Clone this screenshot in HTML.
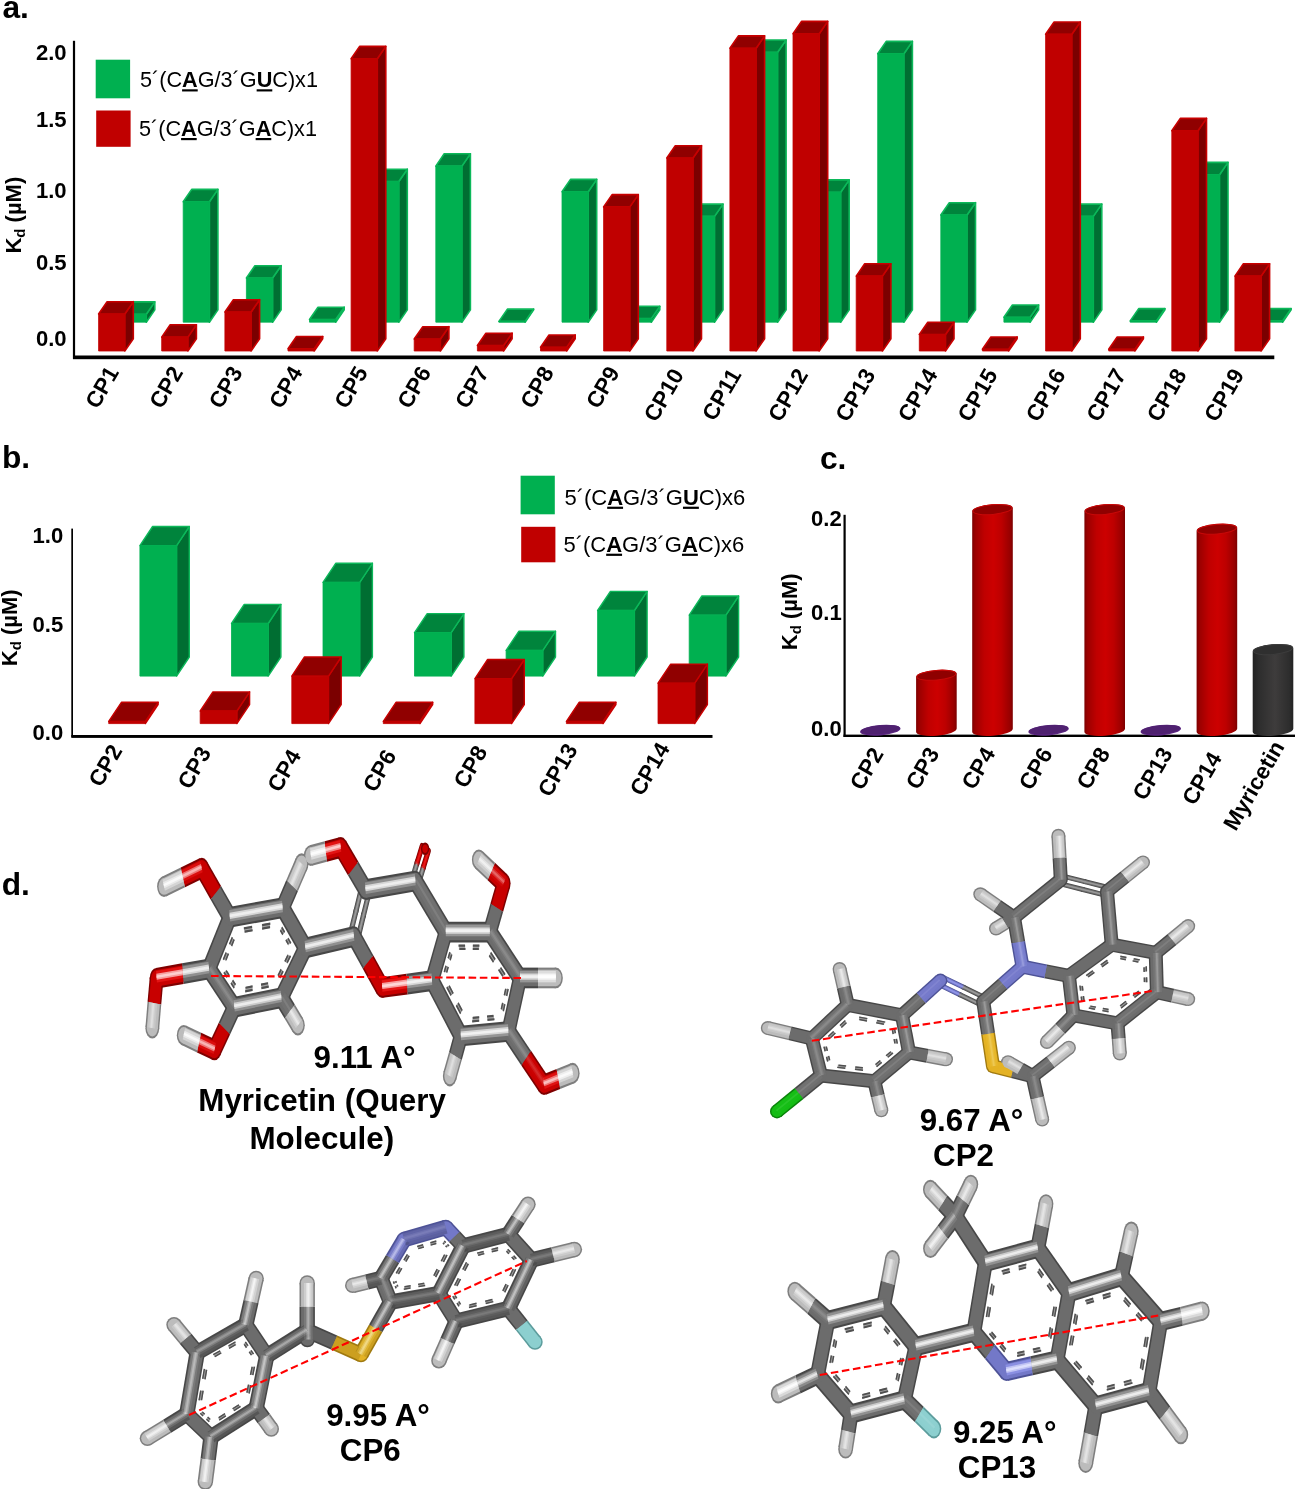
<!DOCTYPE html>
<html lang="en"><head><meta charset="utf-8"><title>Figure</title>
<style>html,body{margin:0;padding:0;background:#fff}svg{display:block;filter:blur(0.45px)}text{font-family:"Liberation Sans", sans-serif;fill:#000}</style>
</head><body>
<svg width="1295" height="1489" viewBox="0 0 1295 1489">
<defs>
<linearGradient id="cylR" x1="0" x2="1" y1="0" y2="0"><stop offset="0" stop-color="#7c0000"/><stop offset="0.07" stop-color="#9a0000"/><stop offset="0.3" stop-color="#bf0000"/><stop offset="0.52" stop-color="#cc0000"/><stop offset="0.72" stop-color="#bd0000"/><stop offset="0.93" stop-color="#980000"/><stop offset="1" stop-color="#7c0000"/></linearGradient>
<linearGradient id="cylK" x1="0" x2="1" y1="0" y2="0"><stop offset="0" stop-color="#222"/><stop offset="0.15" stop-color="#2d2d2d"/><stop offset="0.55" stop-color="#3e3c3c"/><stop offset="0.9" stop-color="#2d2d2d"/><stop offset="1" stop-color="#222"/></linearGradient>
</defs>
<rect width="1295" height="1489" fill="#fff"/>
<g id="panel-a">
<text x="2.5" y="17.6" font-size="31.7" font-weight="bold" text-anchor="start">a.</text>
<rect x="72.9" y="40.8" width="2.2" height="318" fill="#000"/>
<rect x="73" y="355.5" width="1201.3" height="3.7" fill="#000"/>
<text x="66.6" y="60.2" font-size="22.1" font-weight="bold" text-anchor="end">2.0</text>
<text x="66.6" y="126.7" font-size="22.1" font-weight="bold" text-anchor="end">1.5</text>
<text x="66.6" y="197.9" font-size="22.1" font-weight="bold" text-anchor="end">1.0</text>
<text x="66.6" y="269.5" font-size="22.1" font-weight="bold" text-anchor="end">0.5</text>
<text x="66.6" y="346.2" font-size="22.1" font-weight="bold" text-anchor="end">0.0</text>
<text transform="translate(21 215.2) rotate(-90)" font-size="22" font-weight="bold" text-anchor="middle">K<tspan font-size="15" dy="4">d</tspan><tspan dy="-4"> (µM)</tspan></text>
<rect x="95.7" y="59.7" width="34.4" height="38.6" fill="#00b050"/>
<rect x="96.2" y="110.5" width="34.4" height="36.3" fill="#c00000"/>
<text x="140" y="87.3" font-size="21.65" font-weight="normal">5´(C<tspan font-weight="bold" text-decoration="underline">A</tspan>G/3´G<tspan font-weight="bold" text-decoration="underline">U</tspan>C)x1</text>
<text x="139" y="136" font-size="21.65" font-weight="normal">5´(C<tspan font-weight="bold" text-decoration="underline">A</tspan>G/3´G<tspan font-weight="bold" text-decoration="underline">A</tspan>C)x1</text>
<polygon points="146.3,314.2 154.8,301.9 154.8,309.9 146.3,322.2" fill="#006e32" stroke="#0cb85a" stroke-width="1.6" stroke-linejoin="round"/><polygon points="120.1,314.2 128.6,301.9 154.8,301.9 146.3,314.2" fill="#00843c" stroke="#0cb85a" stroke-width="1.6" stroke-linejoin="round"/><rect x="120.1" y="314.2" width="26.2" height="8" fill="#00b050" stroke="#00b050" stroke-width="0.8" stroke-linejoin="round"/>
<polygon points="209.4,201.7 217.9,189.4 217.9,309.9 209.4,322.2" fill="#006e32" stroke="#0cb85a" stroke-width="1.6" stroke-linejoin="round"/><polygon points="183.2,201.7 191.7,189.4 217.9,189.4 209.4,201.7" fill="#00843c" stroke="#0cb85a" stroke-width="1.6" stroke-linejoin="round"/><rect x="183.2" y="201.7" width="26.2" height="120.5" fill="#00b050" stroke="#00b050" stroke-width="0.8" stroke-linejoin="round"/>
<polygon points="272.6,278 281.1,265.7 281.1,309.9 272.6,322.2" fill="#006e32" stroke="#0cb85a" stroke-width="1.6" stroke-linejoin="round"/><polygon points="246.4,278 254.9,265.7 281.1,265.7 272.6,278" fill="#00843c" stroke="#0cb85a" stroke-width="1.6" stroke-linejoin="round"/><rect x="246.4" y="278" width="26.2" height="44.2" fill="#00b050" stroke="#00b050" stroke-width="0.8" stroke-linejoin="round"/>
<polygon points="335.7,319.5 344.2,307.2 344.2,309.9 335.7,322.2" fill="#006e32" stroke="#0cb85a" stroke-width="1.6" stroke-linejoin="round"/><polygon points="309.5,319.5 318,307.2 344.2,307.2 335.7,319.5" fill="#00843c" stroke="#0cb85a" stroke-width="1.6" stroke-linejoin="round"/><rect x="309.5" y="319.5" width="26.2" height="2.7" fill="#00b050" stroke="#00b050" stroke-width="0.8" stroke-linejoin="round"/>
<polygon points="398.8,181.5 407.3,169.2 407.3,309.9 398.8,322.2" fill="#006e32" stroke="#0cb85a" stroke-width="1.6" stroke-linejoin="round"/><polygon points="372.6,181.5 381.1,169.2 407.3,169.2 398.8,181.5" fill="#00843c" stroke="#0cb85a" stroke-width="1.6" stroke-linejoin="round"/><rect x="372.6" y="181.5" width="26.2" height="140.7" fill="#00b050" stroke="#00b050" stroke-width="0.8" stroke-linejoin="round"/>
<polygon points="461.9,166.1 470.4,153.8 470.4,309.9 461.9,322.2" fill="#006e32" stroke="#0cb85a" stroke-width="1.6" stroke-linejoin="round"/><polygon points="435.8,166.1 444.2,153.8 470.4,153.8 461.9,166.1" fill="#00843c" stroke="#0cb85a" stroke-width="1.6" stroke-linejoin="round"/><rect x="435.8" y="166.1" width="26.2" height="156.1" fill="#00b050" stroke="#00b050" stroke-width="0.8" stroke-linejoin="round"/>
<polygon points="525.1,321.4 533.6,309.1 533.6,309.9 525.1,322.2" fill="#006e32" stroke="#0cb85a" stroke-width="1.6" stroke-linejoin="round"/><polygon points="498.9,321.4 507.4,309.1 533.6,309.1 525.1,321.4" fill="#00843c" stroke="#0cb85a" stroke-width="1.6" stroke-linejoin="round"/><rect x="498.9" y="321.4" width="26.2" height="0.8" fill="#00b050" stroke="#00b050" stroke-width="0.8" stroke-linejoin="round"/>
<polygon points="588.2,191.7 596.7,179.4 596.7,309.9 588.2,322.2" fill="#006e32" stroke="#0cb85a" stroke-width="1.6" stroke-linejoin="round"/><polygon points="562,191.7 570.5,179.4 596.7,179.4 588.2,191.7" fill="#00843c" stroke="#0cb85a" stroke-width="1.6" stroke-linejoin="round"/><rect x="562" y="191.7" width="26.2" height="130.5" fill="#00b050" stroke="#00b050" stroke-width="0.8" stroke-linejoin="round"/>
<polygon points="651.3,318.6 659.8,306.3 659.8,309.9 651.3,322.2" fill="#006e32" stroke="#0cb85a" stroke-width="1.6" stroke-linejoin="round"/><polygon points="625.1,318.6 633.6,306.3 659.8,306.3 651.3,318.6" fill="#00843c" stroke="#0cb85a" stroke-width="1.6" stroke-linejoin="round"/><rect x="625.1" y="318.6" width="26.2" height="3.6" fill="#00b050" stroke="#00b050" stroke-width="0.8" stroke-linejoin="round"/>
<polygon points="714.5,216.4 723,204.1 723,309.9 714.5,322.2" fill="#006e32" stroke="#0cb85a" stroke-width="1.6" stroke-linejoin="round"/><polygon points="688.3,216.4 696.8,204.1 723,204.1 714.5,216.4" fill="#00843c" stroke="#0cb85a" stroke-width="1.6" stroke-linejoin="round"/><rect x="688.3" y="216.4" width="26.2" height="105.8" fill="#00b050" stroke="#00b050" stroke-width="0.8" stroke-linejoin="round"/>
<polygon points="777.6,52.3 786.1,40 786.1,309.9 777.6,322.2" fill="#006e32" stroke="#0cb85a" stroke-width="1.6" stroke-linejoin="round"/><polygon points="751.4,52.3 759.9,40 786.1,40 777.6,52.3" fill="#00843c" stroke="#0cb85a" stroke-width="1.6" stroke-linejoin="round"/><rect x="751.4" y="52.3" width="26.2" height="269.9" fill="#00b050" stroke="#00b050" stroke-width="0.8" stroke-linejoin="round"/>
<polygon points="840.7,192.2 849.2,179.9 849.2,309.9 840.7,322.2" fill="#006e32" stroke="#0cb85a" stroke-width="1.6" stroke-linejoin="round"/><polygon points="814.5,192.2 823,179.9 849.2,179.9 840.7,192.2" fill="#00843c" stroke="#0cb85a" stroke-width="1.6" stroke-linejoin="round"/><rect x="814.5" y="192.2" width="26.2" height="130" fill="#00b050" stroke="#00b050" stroke-width="0.8" stroke-linejoin="round"/>
<polygon points="903.9,53.7 912.4,41.4 912.4,309.9 903.9,322.2" fill="#006e32" stroke="#0cb85a" stroke-width="1.6" stroke-linejoin="round"/><polygon points="877.7,53.7 886.2,41.4 912.4,41.4 903.9,53.7" fill="#00843c" stroke="#0cb85a" stroke-width="1.6" stroke-linejoin="round"/><rect x="877.7" y="53.7" width="26.2" height="268.5" fill="#00b050" stroke="#00b050" stroke-width="0.8" stroke-linejoin="round"/>
<polygon points="967,215 975.5,202.7 975.5,309.9 967,322.2" fill="#006e32" stroke="#0cb85a" stroke-width="1.6" stroke-linejoin="round"/><polygon points="940.8,215 949.3,202.7 975.5,202.7 967,215" fill="#00843c" stroke="#0cb85a" stroke-width="1.6" stroke-linejoin="round"/><rect x="940.8" y="215" width="26.2" height="107.2" fill="#00b050" stroke="#00b050" stroke-width="0.8" stroke-linejoin="round"/>
<polygon points="1030.1,317.3 1038.6,305 1038.6,309.9 1030.1,322.2" fill="#006e32" stroke="#0cb85a" stroke-width="1.6" stroke-linejoin="round"/><polygon points="1003.9,317.3 1012.4,305 1038.6,305 1030.1,317.3" fill="#00843c" stroke="#0cb85a" stroke-width="1.6" stroke-linejoin="round"/><rect x="1003.9" y="317.3" width="26.2" height="4.9" fill="#00b050" stroke="#00b050" stroke-width="0.8" stroke-linejoin="round"/>
<polygon points="1093.3,216.4 1101.8,204.1 1101.8,309.9 1093.3,322.2" fill="#006e32" stroke="#0cb85a" stroke-width="1.6" stroke-linejoin="round"/><polygon points="1067.1,216.4 1075.6,204.1 1101.8,204.1 1093.3,216.4" fill="#00843c" stroke="#0cb85a" stroke-width="1.6" stroke-linejoin="round"/><rect x="1067.1" y="216.4" width="26.2" height="105.8" fill="#00b050" stroke="#00b050" stroke-width="0.8" stroke-linejoin="round"/>
<polygon points="1156.4,320.9 1164.9,308.6 1164.9,309.9 1156.4,322.2" fill="#006e32" stroke="#0cb85a" stroke-width="1.6" stroke-linejoin="round"/><polygon points="1130.2,320.9 1138.7,308.6 1164.9,308.6 1156.4,320.9" fill="#00843c" stroke="#0cb85a" stroke-width="1.6" stroke-linejoin="round"/><rect x="1130.2" y="320.9" width="26.2" height="1.3" fill="#00b050" stroke="#00b050" stroke-width="0.8" stroke-linejoin="round"/>
<polygon points="1219.5,174.7 1228,162.4 1228,309.9 1219.5,322.2" fill="#006e32" stroke="#0cb85a" stroke-width="1.6" stroke-linejoin="round"/><polygon points="1193.3,174.7 1201.8,162.4 1228,162.4 1219.5,174.7" fill="#00843c" stroke="#0cb85a" stroke-width="1.6" stroke-linejoin="round"/><rect x="1193.3" y="174.7" width="26.2" height="147.5" fill="#00b050" stroke="#00b050" stroke-width="0.8" stroke-linejoin="round"/>
<polygon points="1282.6,320.9 1291.1,308.6 1291.1,309.9 1282.6,322.2" fill="#006e32" stroke="#0cb85a" stroke-width="1.6" stroke-linejoin="round"/><polygon points="1256.4,320.9 1264.9,308.6 1291.1,308.6 1282.6,320.9" fill="#00843c" stroke="#0cb85a" stroke-width="1.6" stroke-linejoin="round"/><rect x="1256.4" y="320.9" width="26.2" height="1.3" fill="#00b050" stroke="#00b050" stroke-width="0.8" stroke-linejoin="round"/>
<polygon points="124.8,314 133.3,301.7 133.3,338.7 124.8,351" fill="#7b0000" stroke="#c80000" stroke-width="1.6" stroke-linejoin="round"/><polygon points="98.6,314 107.1,301.7 133.3,301.7 124.8,314" fill="#900000" stroke="#c80000" stroke-width="1.6" stroke-linejoin="round"/><rect x="98.6" y="314" width="26.2" height="37" fill="#c00000" stroke="#c00000" stroke-width="0.8" stroke-linejoin="round"/>
<polygon points="187.9,337.1 196.4,324.8 196.4,338.7 187.9,351" fill="#7b0000" stroke="#c80000" stroke-width="1.6" stroke-linejoin="round"/><polygon points="161.7,337.1 170.2,324.8 196.4,324.8 187.9,337.1" fill="#900000" stroke="#c80000" stroke-width="1.6" stroke-linejoin="round"/><rect x="161.7" y="337.1" width="26.2" height="13.9" fill="#c00000" stroke="#c00000" stroke-width="0.8" stroke-linejoin="round"/>
<polygon points="251.1,312 259.6,299.7 259.6,338.7 251.1,351" fill="#7b0000" stroke="#c80000" stroke-width="1.6" stroke-linejoin="round"/><polygon points="224.9,312 233.4,299.7 259.6,299.7 251.1,312" fill="#900000" stroke="#c80000" stroke-width="1.6" stroke-linejoin="round"/><rect x="224.9" y="312" width="26.2" height="39" fill="#c00000" stroke="#c00000" stroke-width="0.8" stroke-linejoin="round"/>
<polygon points="314.2,348.8 322.7,336.5 322.7,338.7 314.2,351" fill="#7b0000" stroke="#c80000" stroke-width="1.6" stroke-linejoin="round"/><polygon points="288,348.8 296.5,336.5 322.7,336.5 314.2,348.8" fill="#900000" stroke="#c80000" stroke-width="1.6" stroke-linejoin="round"/><rect x="288" y="348.8" width="26.2" height="2.2" fill="#c00000" stroke="#c00000" stroke-width="0.8" stroke-linejoin="round"/>
<polygon points="377.3,58.7 385.8,46.4 385.8,338.7 377.3,351" fill="#7b0000" stroke="#c80000" stroke-width="1.6" stroke-linejoin="round"/><polygon points="351.1,58.7 359.6,46.4 385.8,46.4 377.3,58.7" fill="#900000" stroke="#c80000" stroke-width="1.6" stroke-linejoin="round"/><rect x="351.1" y="58.7" width="26.2" height="292.3" fill="#c00000" stroke="#c00000" stroke-width="0.8" stroke-linejoin="round"/>
<polygon points="440.4,339 448.9,326.7 448.9,338.7 440.4,351" fill="#7b0000" stroke="#c80000" stroke-width="1.6" stroke-linejoin="round"/><polygon points="414.2,339 422.8,326.7 448.9,326.7 440.4,339" fill="#900000" stroke="#c80000" stroke-width="1.6" stroke-linejoin="round"/><rect x="414.2" y="339" width="26.2" height="12" fill="#c00000" stroke="#c00000" stroke-width="0.8" stroke-linejoin="round"/>
<polygon points="503.6,345.5 512.1,333.2 512.1,338.7 503.6,351" fill="#7b0000" stroke="#c80000" stroke-width="1.6" stroke-linejoin="round"/><polygon points="477.4,345.5 485.9,333.2 512.1,333.2 503.6,345.5" fill="#900000" stroke="#c80000" stroke-width="1.6" stroke-linejoin="round"/><rect x="477.4" y="345.5" width="26.2" height="5.5" fill="#c00000" stroke="#c00000" stroke-width="0.8" stroke-linejoin="round"/>
<polygon points="566.7,347.3 575.2,335 575.2,338.7 566.7,351" fill="#7b0000" stroke="#c80000" stroke-width="1.6" stroke-linejoin="round"/><polygon points="540.5,347.3 549,335 575.2,335 566.7,347.3" fill="#900000" stroke="#c80000" stroke-width="1.6" stroke-linejoin="round"/><rect x="540.5" y="347.3" width="26.2" height="3.7" fill="#c00000" stroke="#c00000" stroke-width="0.8" stroke-linejoin="round"/>
<polygon points="629.8,206.9 638.3,194.6 638.3,338.7 629.8,351" fill="#7b0000" stroke="#c80000" stroke-width="1.6" stroke-linejoin="round"/><polygon points="603.6,206.9 612.1,194.6 638.3,194.6 629.8,206.9" fill="#900000" stroke="#c80000" stroke-width="1.6" stroke-linejoin="round"/><rect x="603.6" y="206.9" width="26.2" height="144.1" fill="#c00000" stroke="#c00000" stroke-width="0.8" stroke-linejoin="round"/>
<polygon points="693,158 701.5,145.7 701.5,338.7 693,351" fill="#7b0000" stroke="#c80000" stroke-width="1.6" stroke-linejoin="round"/><polygon points="666.8,158 675.3,145.7 701.5,145.7 693,158" fill="#900000" stroke="#c80000" stroke-width="1.6" stroke-linejoin="round"/><rect x="666.8" y="158" width="26.2" height="193" fill="#c00000" stroke="#c00000" stroke-width="0.8" stroke-linejoin="round"/>
<polygon points="756.1,48.2 764.6,35.9 764.6,338.7 756.1,351" fill="#7b0000" stroke="#c80000" stroke-width="1.6" stroke-linejoin="round"/><polygon points="729.9,48.2 738.4,35.9 764.6,35.9 756.1,48.2" fill="#900000" stroke="#c80000" stroke-width="1.6" stroke-linejoin="round"/><rect x="729.9" y="48.2" width="26.2" height="302.8" fill="#c00000" stroke="#c00000" stroke-width="0.8" stroke-linejoin="round"/>
<polygon points="819.2,33.7 827.7,21.4 827.7,338.7 819.2,351" fill="#7b0000" stroke="#c80000" stroke-width="1.6" stroke-linejoin="round"/><polygon points="793,33.7 801.5,21.4 827.7,21.4 819.2,33.7" fill="#900000" stroke="#c80000" stroke-width="1.6" stroke-linejoin="round"/><rect x="793" y="33.7" width="26.2" height="317.3" fill="#c00000" stroke="#c00000" stroke-width="0.8" stroke-linejoin="round"/>
<polygon points="882.4,276.1 890.9,263.8 890.9,338.7 882.4,351" fill="#7b0000" stroke="#c80000" stroke-width="1.6" stroke-linejoin="round"/><polygon points="856.2,276.1 864.7,263.8 890.9,263.8 882.4,276.1" fill="#900000" stroke="#c80000" stroke-width="1.6" stroke-linejoin="round"/><rect x="856.2" y="276.1" width="26.2" height="74.9" fill="#c00000" stroke="#c00000" stroke-width="0.8" stroke-linejoin="round"/>
<polygon points="945.5,334.5 954,322.2 954,338.7 945.5,351" fill="#7b0000" stroke="#c80000" stroke-width="1.6" stroke-linejoin="round"/><polygon points="919.3,334.5 927.8,322.2 954,322.2 945.5,334.5" fill="#900000" stroke="#c80000" stroke-width="1.6" stroke-linejoin="round"/><rect x="919.3" y="334.5" width="26.2" height="16.5" fill="#c00000" stroke="#c00000" stroke-width="0.8" stroke-linejoin="round"/>
<polygon points="1008.6,349.3 1017.1,337 1017.1,338.7 1008.6,351" fill="#7b0000" stroke="#c80000" stroke-width="1.6" stroke-linejoin="round"/><polygon points="982.4,349.3 990.9,337 1017.1,337 1008.6,349.3" fill="#900000" stroke="#c80000" stroke-width="1.6" stroke-linejoin="round"/><rect x="982.4" y="349.3" width="26.2" height="1.7" fill="#c00000" stroke="#c00000" stroke-width="0.8" stroke-linejoin="round"/>
<polygon points="1071.8,34.3 1080.3,22 1080.3,338.7 1071.8,351" fill="#7b0000" stroke="#c80000" stroke-width="1.6" stroke-linejoin="round"/><polygon points="1045.6,34.3 1054.1,22 1080.3,22 1071.8,34.3" fill="#900000" stroke="#c80000" stroke-width="1.6" stroke-linejoin="round"/><rect x="1045.6" y="34.3" width="26.2" height="316.7" fill="#c00000" stroke="#c00000" stroke-width="0.8" stroke-linejoin="round"/>
<polygon points="1134.9,349.3 1143.4,337 1143.4,338.7 1134.9,351" fill="#7b0000" stroke="#c80000" stroke-width="1.6" stroke-linejoin="round"/><polygon points="1108.7,349.3 1117.2,337 1143.4,337 1134.9,349.3" fill="#900000" stroke="#c80000" stroke-width="1.6" stroke-linejoin="round"/><rect x="1108.7" y="349.3" width="26.2" height="1.7" fill="#c00000" stroke="#c00000" stroke-width="0.8" stroke-linejoin="round"/>
<polygon points="1198,130.7 1206.5,118.4 1206.5,338.7 1198,351" fill="#7b0000" stroke="#c80000" stroke-width="1.6" stroke-linejoin="round"/><polygon points="1171.8,130.7 1180.3,118.4 1206.5,118.4 1198,130.7" fill="#900000" stroke="#c80000" stroke-width="1.6" stroke-linejoin="round"/><rect x="1171.8" y="130.7" width="26.2" height="220.3" fill="#c00000" stroke="#c00000" stroke-width="0.8" stroke-linejoin="round"/>
<polygon points="1261.1,276.1 1269.6,263.8 1269.6,338.7 1261.1,351" fill="#7b0000" stroke="#c80000" stroke-width="1.6" stroke-linejoin="round"/><polygon points="1234.9,276.1 1243.4,263.8 1269.6,263.8 1261.1,276.1" fill="#900000" stroke="#c80000" stroke-width="1.6" stroke-linejoin="round"/><rect x="1234.9" y="276.1" width="26.2" height="74.9" fill="#c00000" stroke="#c00000" stroke-width="0.8" stroke-linejoin="round"/>
<text x="119.6" y="372.2" font-size="22.5" font-weight="bold" text-anchor="end" transform="rotate(-60 119.6 372.2)">CP1</text>
<text x="183.7" y="372.2" font-size="22.5" font-weight="bold" text-anchor="end" transform="rotate(-60 183.7 372.2)">CP2</text>
<text x="243.2" y="372.2" font-size="22.5" font-weight="bold" text-anchor="end" transform="rotate(-60 243.2 372.2)">CP3</text>
<text x="303.4" y="372.2" font-size="22.5" font-weight="bold" text-anchor="end" transform="rotate(-60 303.4 372.2)">CP4</text>
<text x="368.6" y="372.2" font-size="22.5" font-weight="bold" text-anchor="end" transform="rotate(-60 368.6 372.2)">CP5</text>
<text x="431.7" y="372.2" font-size="22.5" font-weight="bold" text-anchor="end" transform="rotate(-60 431.7 372.2)">CP6</text>
<text x="489.5" y="372.2" font-size="22.5" font-weight="bold" text-anchor="end" transform="rotate(-60 489.5 372.2)">CP7</text>
<text x="554.6" y="372.2" font-size="22.5" font-weight="bold" text-anchor="end" transform="rotate(-60 554.6 372.2)">CP8</text>
<text x="620.3" y="372.2" font-size="22.5" font-weight="bold" text-anchor="end" transform="rotate(-60 620.3 372.2)">CP9</text>
<text x="684.5" y="374.5" font-size="22.5" font-weight="bold" text-anchor="end" transform="rotate(-60 684.5 374.5)">CP10</text>
<text x="742" y="374.5" font-size="22.5" font-weight="bold" text-anchor="end" transform="rotate(-60 742 374.5)">CP11</text>
<text x="808.7" y="374.5" font-size="22.5" font-weight="bold" text-anchor="end" transform="rotate(-60 808.7 374.5)">CP12</text>
<text x="876" y="374.5" font-size="22.5" font-weight="bold" text-anchor="end" transform="rotate(-60 876 374.5)">CP13</text>
<text x="938.3" y="374.5" font-size="22.5" font-weight="bold" text-anchor="end" transform="rotate(-60 938.3 374.5)">CP14</text>
<text x="998.2" y="374.5" font-size="22.5" font-weight="bold" text-anchor="end" transform="rotate(-60 998.2 374.5)">CP15</text>
<text x="1066.3" y="374.5" font-size="22.5" font-weight="bold" text-anchor="end" transform="rotate(-60 1066.3 374.5)">CP16</text>
<text x="1126.8" y="374.5" font-size="22.5" font-weight="bold" text-anchor="end" transform="rotate(-60 1126.8 374.5)">CP17</text>
<text x="1187.3" y="374.5" font-size="22.5" font-weight="bold" text-anchor="end" transform="rotate(-60 1187.3 374.5)">CP18</text>
<text x="1244.7" y="374.5" font-size="22.5" font-weight="bold" text-anchor="end" transform="rotate(-60 1244.7 374.5)">CP19</text>
</g>
<g id="panel-b">
<text x="1.9" y="468.4" font-size="31.7" font-weight="bold" text-anchor="start">b.</text>
<rect x="71.3" y="528.6" width="1.7" height="208.5" fill="#000"/>
<rect x="71.3" y="735" width="641.2" height="2.9" fill="#000"/>
<text x="63.3" y="542.6" font-size="22.1" font-weight="bold" text-anchor="end">1.0</text>
<text x="63.3" y="631.8" font-size="22.1" font-weight="bold" text-anchor="end">0.5</text>
<text x="63.3" y="739.6" font-size="22.1" font-weight="bold" text-anchor="end">0.0</text>
<text transform="translate(17.3 627.8) rotate(-90)" font-size="22" font-weight="bold" text-anchor="middle">K<tspan font-size="15" dy="4">d</tspan><tspan dy="-4"> (µM)</tspan></text>
<rect x="520.6" y="475.7" width="34.2" height="38.6" fill="#00b050"/>
<rect x="521.2" y="526.8" width="34.2" height="35.5" fill="#c00000"/>
<text x="564.4" y="504.7" font-size="22" font-weight="normal">5´(C<tspan font-weight="bold" text-decoration="underline">A</tspan>G/3´G<tspan font-weight="bold" text-decoration="underline">U</tspan>C)x6</text>
<text x="563.4" y="551.7" font-size="22" font-weight="normal">5´(C<tspan font-weight="bold" text-decoration="underline">A</tspan>G/3´G<tspan font-weight="bold" text-decoration="underline">A</tspan>C)x6</text>
<polygon points="176.6,545.6 189.3,526.5 189.3,657 176.6,676.1" fill="#006e32" stroke="#0cb85a" stroke-width="1.4" stroke-linejoin="round"/><polygon points="139.9,545.6 152.6,526.5 189.3,526.5 176.6,545.6" fill="#00843c" stroke="#0cb85a" stroke-width="1.4" stroke-linejoin="round"/><rect x="139.9" y="545.6" width="36.7" height="130.5" fill="#00b050" stroke="#00b050" stroke-width="0.8" stroke-linejoin="round"/>
<polygon points="268.2,623.5 280.9,604.4 280.9,657 268.2,676.1" fill="#006e32" stroke="#0cb85a" stroke-width="1.4" stroke-linejoin="round"/><polygon points="231.5,623.5 244.2,604.4 280.9,604.4 268.2,623.5" fill="#00843c" stroke="#0cb85a" stroke-width="1.4" stroke-linejoin="round"/><rect x="231.5" y="623.5" width="36.7" height="52.6" fill="#00b050" stroke="#00b050" stroke-width="0.8" stroke-linejoin="round"/>
<polygon points="359.7,582.4 372.4,563.3 372.4,657 359.7,676.1" fill="#006e32" stroke="#0cb85a" stroke-width="1.4" stroke-linejoin="round"/><polygon points="323,582.4 335.7,563.3 372.4,563.3 359.7,582.4" fill="#00843c" stroke="#0cb85a" stroke-width="1.4" stroke-linejoin="round"/><rect x="323" y="582.4" width="36.7" height="93.7" fill="#00b050" stroke="#00b050" stroke-width="0.8" stroke-linejoin="round"/>
<polygon points="451.2,632.7 463.9,613.6 463.9,657 451.2,676.1" fill="#006e32" stroke="#0cb85a" stroke-width="1.4" stroke-linejoin="round"/><polygon points="414.5,632.7 427.2,613.6 463.9,613.6 451.2,632.7" fill="#00843c" stroke="#0cb85a" stroke-width="1.4" stroke-linejoin="round"/><rect x="414.5" y="632.7" width="36.7" height="43.4" fill="#00b050" stroke="#00b050" stroke-width="0.8" stroke-linejoin="round"/>
<polygon points="542.8,650.4 555.5,631.3 555.5,657 542.8,676.1" fill="#006e32" stroke="#0cb85a" stroke-width="1.4" stroke-linejoin="round"/><polygon points="506.1,650.4 518.8,631.3 555.5,631.3 542.8,650.4" fill="#00843c" stroke="#0cb85a" stroke-width="1.4" stroke-linejoin="round"/><rect x="506.1" y="650.4" width="36.7" height="25.7" fill="#00b050" stroke="#00b050" stroke-width="0.8" stroke-linejoin="round"/>
<polygon points="634.4,610.5 647.1,591.4 647.1,657 634.4,676.1" fill="#006e32" stroke="#0cb85a" stroke-width="1.4" stroke-linejoin="round"/><polygon points="597.6,610.5 610.4,591.4 647.1,591.4 634.4,610.5" fill="#00843c" stroke="#0cb85a" stroke-width="1.4" stroke-linejoin="round"/><rect x="597.6" y="610.5" width="36.7" height="65.6" fill="#00b050" stroke="#00b050" stroke-width="0.8" stroke-linejoin="round"/>
<polygon points="725.9,615.1 738.6,596 738.6,657 725.9,676.1" fill="#006e32" stroke="#0cb85a" stroke-width="1.4" stroke-linejoin="round"/><polygon points="689.2,615.1 701.9,596 738.6,596 725.9,615.1" fill="#00843c" stroke="#0cb85a" stroke-width="1.4" stroke-linejoin="round"/><rect x="689.2" y="615.1" width="36.7" height="61" fill="#00b050" stroke="#00b050" stroke-width="0.8" stroke-linejoin="round"/>
<polygon points="145.4,721.4 158.1,702.3 158.1,704.5 145.4,723.6" fill="#7b0000" stroke="#c80000" stroke-width="1.4" stroke-linejoin="round"/><polygon points="108.7,721.4 121.4,702.3 158.1,702.3 145.4,721.4" fill="#900000" stroke="#c80000" stroke-width="1.4" stroke-linejoin="round"/><rect x="108.7" y="721.4" width="36.7" height="2.2" fill="#c00000" stroke="#c00000" stroke-width="0.8" stroke-linejoin="round"/>
<polygon points="236.9,711 249.6,691.9 249.6,704.5 236.9,723.6" fill="#7b0000" stroke="#c80000" stroke-width="1.4" stroke-linejoin="round"/><polygon points="200.2,711 212.9,691.9 249.6,691.9 236.9,711" fill="#900000" stroke="#c80000" stroke-width="1.4" stroke-linejoin="round"/><rect x="200.2" y="711" width="36.7" height="12.6" fill="#c00000" stroke="#c00000" stroke-width="0.8" stroke-linejoin="round"/>
<polygon points="328.5,676.1 341.2,657 341.2,704.5 328.5,723.6" fill="#7b0000" stroke="#c80000" stroke-width="1.4" stroke-linejoin="round"/><polygon points="291.8,676.1 304.5,657 341.2,657 328.5,676.1" fill="#900000" stroke="#c80000" stroke-width="1.4" stroke-linejoin="round"/><rect x="291.8" y="676.1" width="36.7" height="47.5" fill="#c00000" stroke="#c00000" stroke-width="0.8" stroke-linejoin="round"/>
<polygon points="420,721.4 432.7,702.3 432.7,704.5 420,723.6" fill="#7b0000" stroke="#c80000" stroke-width="1.4" stroke-linejoin="round"/><polygon points="383.3,721.4 396,702.3 432.7,702.3 420,721.4" fill="#900000" stroke="#c80000" stroke-width="1.4" stroke-linejoin="round"/><rect x="383.3" y="721.4" width="36.7" height="2.2" fill="#c00000" stroke="#c00000" stroke-width="0.8" stroke-linejoin="round"/>
<polygon points="511.6,678.6 524.3,659.5 524.3,704.5 511.6,723.6" fill="#7b0000" stroke="#c80000" stroke-width="1.4" stroke-linejoin="round"/><polygon points="474.9,678.6 487.6,659.5 524.3,659.5 511.6,678.6" fill="#900000" stroke="#c80000" stroke-width="1.4" stroke-linejoin="round"/><rect x="474.9" y="678.6" width="36.7" height="45" fill="#c00000" stroke="#c00000" stroke-width="0.8" stroke-linejoin="round"/>
<polygon points="603.1,721.4 615.9,702.3 615.9,704.5 603.1,723.6" fill="#7b0000" stroke="#c80000" stroke-width="1.4" stroke-linejoin="round"/><polygon points="566.4,721.4 579.1,702.3 615.9,702.3 603.1,721.4" fill="#900000" stroke="#c80000" stroke-width="1.4" stroke-linejoin="round"/><rect x="566.4" y="721.4" width="36.7" height="2.2" fill="#c00000" stroke="#c00000" stroke-width="0.8" stroke-linejoin="round"/>
<polygon points="694.7,683.2 707.4,664.1 707.4,704.5 694.7,723.6" fill="#7b0000" stroke="#c80000" stroke-width="1.4" stroke-linejoin="round"/><polygon points="658,683.2 670.7,664.1 707.4,664.1 694.7,683.2" fill="#900000" stroke="#c80000" stroke-width="1.4" stroke-linejoin="round"/><rect x="658" y="683.2" width="36.7" height="40.4" fill="#c00000" stroke="#c00000" stroke-width="0.8" stroke-linejoin="round"/>
<text x="123" y="750.3" font-size="22.5" font-weight="bold" text-anchor="end" transform="rotate(-60 123 750.3)">CP2</text>
<text x="211.8" y="752.5" font-size="22.5" font-weight="bold" text-anchor="end" transform="rotate(-60 211.8 752.5)">CP3</text>
<text x="301.7" y="755.5" font-size="22.5" font-weight="bold" text-anchor="end" transform="rotate(-60 301.7 755.5)">CP4</text>
<text x="397.1" y="755.5" font-size="22.5" font-weight="bold" text-anchor="end" transform="rotate(-60 397.1 755.5)">CP6</text>
<text x="487.9" y="751.5" font-size="22.5" font-weight="bold" text-anchor="end" transform="rotate(-60 487.9 751.5)">CP8</text>
<text x="578.4" y="749.4" font-size="22.5" font-weight="bold" text-anchor="end" transform="rotate(-60 578.4 749.4)">CP13</text>
<text x="670.4" y="748.5" font-size="22.5" font-weight="bold" text-anchor="end" transform="rotate(-60 670.4 748.5)">CP14</text>
</g>
<g id="panel-c">
<text x="819.9" y="468.5" font-size="31.7" font-weight="bold" text-anchor="start">c.</text>
<rect x="843.5" y="514.8" width="2.2" height="222.2" fill="#000"/>
<rect x="843.5" y="734.6" width="451.5" height="2.4" fill="#000"/>
<text x="841.7" y="525.6" font-size="22.1" font-weight="bold" text-anchor="end">0.2</text>
<text x="841.7" y="619.8" font-size="22.1" font-weight="bold" text-anchor="end">0.1</text>
<text x="841.7" y="736.4" font-size="22.1" font-weight="bold" text-anchor="end">0.0</text>
<text transform="translate(797 611.8) rotate(-90)" font-size="22" font-weight="bold" text-anchor="middle">K<tspan font-size="15" dy="4">d</tspan><tspan dy="-4"> (µM)</tspan></text>
<ellipse cx="880.3" cy="730.2" rx="20.3" ry="5.2" transform="rotate(-5 880.3 730.2)" fill="#5a2580"/>
<ellipse cx="880.3" cy="729.6" rx="19.5" ry="4.4" transform="rotate(-5 880.3 729.6)" fill="#4f2170"/>
<path d="M916.1 677 L916.1 732 A20.3 5.4 -4.8 0 0 956.7 728.6 L956.7 673.6 A20.3 5.4 -4.8 0 0 916.1 677 Z" fill="url(#cylR)"/>
<ellipse cx="936.4" cy="675.3" rx="19.6" ry="4.8" transform="rotate(-4.8 936.4 675.3)" fill="#8f0000" stroke="#c80808" stroke-width="1"/>
<path d="M972.2 511.3 L972.2 732 A20.3 5.4 -4.8 0 0 1012.8 728.6 L1012.8 507.9 A20.3 5.4 -4.8 0 0 972.2 511.3 Z" fill="url(#cylR)"/>
<ellipse cx="992.5" cy="509.6" rx="19.6" ry="4.8" transform="rotate(-4.8 992.5 509.6)" fill="#8f0000" stroke="#c80808" stroke-width="1"/>
<ellipse cx="1048.6" cy="730.2" rx="20.3" ry="5.2" transform="rotate(-5 1048.6 730.2)" fill="#5a2580"/>
<ellipse cx="1048.6" cy="729.6" rx="19.5" ry="4.4" transform="rotate(-5 1048.6 729.6)" fill="#4f2170"/>
<path d="M1084.4 511.3 L1084.4 732 A20.3 5.4 -4.8 0 0 1125 728.6 L1125 507.9 A20.3 5.4 -4.8 0 0 1084.4 511.3 Z" fill="url(#cylR)"/>
<ellipse cx="1104.7" cy="509.6" rx="19.6" ry="4.8" transform="rotate(-4.8 1104.7 509.6)" fill="#8f0000" stroke="#c80808" stroke-width="1"/>
<ellipse cx="1160.8" cy="730.2" rx="20.3" ry="5.2" transform="rotate(-5 1160.8 730.2)" fill="#5a2580"/>
<ellipse cx="1160.8" cy="729.6" rx="19.5" ry="4.4" transform="rotate(-5 1160.8 729.6)" fill="#4f2170"/>
<path d="M1196.6 530.9 L1196.6 732 A20.3 5.4 -4.8 0 0 1237.2 728.6 L1237.2 527.5 A20.3 5.4 -4.8 0 0 1196.6 530.9 Z" fill="url(#cylR)"/>
<ellipse cx="1216.9" cy="529.2" rx="19.6" ry="4.8" transform="rotate(-4.8 1216.9 529.2)" fill="#8f0000" stroke="#c80808" stroke-width="1"/>
<path d="M1252.7 651.3 L1252.7 732 A20.3 5.4 -4.8 0 0 1293.3 728.6 L1293.3 647.9 A20.3 5.4 -4.8 0 0 1252.7 651.3 Z" fill="url(#cylK)"/>
<ellipse cx="1273" cy="649.6" rx="19.6" ry="4.8" transform="rotate(-4.8 1273 649.6)" fill="#2f2f2f" stroke="#3c3c3c" stroke-width="1"/>
<text x="884.2" y="753.5" font-size="22.5" font-weight="bold" text-anchor="end" transform="rotate(-60 884.2 753.5)">CP2</text>
<text x="940.1" y="753.1" font-size="22.5" font-weight="bold" text-anchor="end" transform="rotate(-60 940.1 753.1)">CP3</text>
<text x="995.9" y="753.1" font-size="22.5" font-weight="bold" text-anchor="end" transform="rotate(-60 995.9 753.1)">CP4</text>
<text x="1053.2" y="753.5" font-size="22.5" font-weight="bold" text-anchor="end" transform="rotate(-60 1053.2 753.5)">CP6</text>
<text x="1110.8" y="753.1" font-size="22.5" font-weight="bold" text-anchor="end" transform="rotate(-60 1110.8 753.1)">CP8</text>
<text x="1173.2" y="753.1" font-size="22.5" font-weight="bold" text-anchor="end" transform="rotate(-60 1173.2 753.1)">CP13</text>
<text x="1222.6" y="757.8" font-size="22.5" font-weight="bold" text-anchor="end" transform="rotate(-60 1222.6 757.8)">CP14</text>
<text x="1285.2" y="746.5" font-size="22.5" font-weight="bold" text-anchor="end" transform="rotate(-60 1285.2 746.5)">Myricetin</text>
</g>
<g id="panel-d">
<text x="1.7" y="894.7" font-size="31.7" font-weight="bold" text-anchor="start">d.</text>
<g transform="translate(0 956.8) scale(1 1.5) translate(0 -956.8)">
<g stroke="#505050" stroke-width="1.45"><line x1="236" y1="940" x2="278.4" y2="934.9" stroke-dasharray="8.1 9.8" stroke-dashoffset="-8.3" stroke="#a4a4a4" stroke-width="3.5"/><line x1="278.4" y1="934.9" x2="292.4" y2="951.5" stroke-dasharray="4.1 5" stroke-dashoffset="-4.2" stroke="#a4a4a4" stroke-width="3.5"/><line x1="292.4" y1="951.5" x2="275.7" y2="974.6" stroke-dasharray="5.4 6.6" stroke-dashoffset="-5.6" stroke="#a4a4a4" stroke-width="3.5"/><line x1="275.7" y1="974.6" x2="238" y2="979.6" stroke-dasharray="7.2 8.8" stroke-dashoffset="-7.4" stroke="#a4a4a4" stroke-width="3.5"/><line x1="238" y1="979.6" x2="221.8" y2="963.4" stroke-dasharray="4.3 5.3" stroke-dashoffset="-4.5" stroke="#a4a4a4" stroke-width="3.5"/><line x1="221.8" y1="963.4" x2="236" y2="940" stroke-dasharray="5.2 6.3" stroke-dashoffset="-5.3" stroke="#a4a4a4" stroke-width="3.5"/><line x1="235.3" y1="938.9" x2="278.8" y2="933.7" stroke-dasharray="8.3 10.1" stroke-dashoffset="-8.6"/><line x1="278.8" y1="933.7" x2="293.9" y2="951.4" stroke-dasharray="4.4 5.3" stroke-dashoffset="-4.5"/><line x1="293.9" y1="951.4" x2="276.3" y2="975.7" stroke-dasharray="5.7 6.9" stroke-dashoffset="-5.8"/><line x1="276.3" y1="975.7" x2="237.6" y2="980.9" stroke-dasharray="7.4 9" stroke-dashoffset="-7.6"/><line x1="237.6" y1="980.9" x2="220.4" y2="963.6" stroke-dasharray="4.6 5.6" stroke-dashoffset="-4.7"/><line x1="220.4" y1="963.6" x2="235.3" y2="938.9" stroke-dasharray="5.5 6.6" stroke-dashoffset="-5.6"/><line x1="236.7" y1="941" x2="277.9" y2="936.1" stroke-dasharray="7.9 9.6" stroke-dashoffset="-8.1"/><line x1="277.9" y1="936.1" x2="291" y2="951.5" stroke-dasharray="3.8 4.6" stroke-dashoffset="-3.9"/><line x1="291" y1="951.5" x2="275.1" y2="973.5" stroke-dasharray="5.2 6.3" stroke-dashoffset="-5.3"/><line x1="275.1" y1="973.5" x2="238.4" y2="978.4" stroke-dasharray="7 8.5" stroke-dashoffset="-7.2"/><line x1="238.4" y1="978.4" x2="223.3" y2="963.2" stroke-dasharray="4.1 4.9" stroke-dashoffset="-4.2"/><line x1="223.3" y1="963.2" x2="236.7" y2="941" stroke-dasharray="4.9 6" stroke-dashoffset="-5.1"/><line x1="443.7" y1="971.1" x2="452.5" y2="950.5" stroke-dasharray="4.3 5.2" stroke-dashoffset="-4.4" stroke="#a4a4a4" stroke-width="3.5"/><line x1="452.5" y1="950.5" x2="485.5" y2="950.5" stroke-dasharray="6.3 7.6" stroke-dashoffset="-6.4" stroke="#a4a4a4" stroke-width="3.5"/><line x1="485.5" y1="950.5" x2="508.4" y2="973.7" stroke-dasharray="6.2 7.5" stroke-dashoffset="-6.4" stroke="#a4a4a4" stroke-width="3.5"/><line x1="508.4" y1="973.7" x2="500.8" y2="996.9" stroke-dasharray="4.6 5.6" stroke-dashoffset="-4.8" stroke="#a4a4a4" stroke-width="3.5"/><line x1="500.8" y1="996.9" x2="465.6" y2="999.1" stroke-dasharray="6.7 8.1" stroke-dashoffset="-6.9" stroke="#a4a4a4" stroke-width="3.5"/><line x1="465.6" y1="999.1" x2="443.7" y2="971.1" stroke-dasharray="6.7 8.2" stroke-dashoffset="-6.9" stroke="#a4a4a4" stroke-width="3.5"/><line x1="442.4" y1="971.3" x2="451.8" y2="949.3" stroke-dasharray="4.5 5.5" stroke-dashoffset="-4.7"/><line x1="451.8" y1="949.3" x2="486" y2="949.3" stroke-dasharray="6.5 7.9" stroke-dashoffset="-6.7"/><line x1="486" y1="949.3" x2="509.7" y2="973.4" stroke-dasharray="6.4 7.8" stroke-dashoffset="-6.6"/><line x1="509.7" y1="973.4" x2="501.7" y2="998" stroke-dasharray="4.9 5.9" stroke-dashoffset="-5"/><line x1="501.7" y1="998" x2="465.1" y2="1000.3" stroke-dasharray="7 8.4" stroke-dashoffset="-7.2"/><line x1="465.1" y1="1000.3" x2="442.4" y2="971.3" stroke-dasharray="7 8.5" stroke-dashoffset="-7.2"/><line x1="445.1" y1="971" x2="453.3" y2="951.6" stroke-dasharray="4 4.8" stroke-dashoffset="-4.1"/><line x1="453.3" y1="951.6" x2="485" y2="951.6" stroke-dasharray="6 7.3" stroke-dashoffset="-6.2"/><line x1="485" y1="951.6" x2="507.1" y2="974" stroke-dasharray="6 7.2" stroke-dashoffset="-6.1"/><line x1="507.1" y1="974" x2="500" y2="995.8" stroke-dasharray="4.4 5.3" stroke-dashoffset="-4.5"/><line x1="500" y1="995.8" x2="466.2" y2="997.9" stroke-dasharray="6.4 7.8" stroke-dashoffset="-6.6"/><line x1="466.2" y1="997.9" x2="445.1" y2="971" stroke-dasharray="6.5 7.9" stroke-dashoffset="-6.7"/></g>
<g stroke-width="5" stroke-linecap="round"><line x1="350.2" y1="941.9" x2="356" y2="926.3" stroke="#474747"/><line x1="356" y1="926.3" x2="361.7" y2="910.6" stroke="#474747"/><line x1="357.8" y1="944.7" x2="363.5" y2="929" stroke="#474747"/><line x1="363.5" y1="929" x2="369.3" y2="913.4" stroke="#474747"/><line x1="412.3" y1="904.9" x2="417.1" y2="894.1" stroke="#474747"/><line x1="417.1" y1="894.1" x2="422" y2="883.4" stroke="#7e0000"/><line x1="418.5" y1="907.7" x2="423.4" y2="897" stroke="#474747"/><line x1="423.4" y1="897" x2="428.3" y2="886.3" stroke="#7e0000"/></g>
<g stroke-width="3.6" stroke-linecap="round"><line x1="350.2" y1="941.9" x2="356" y2="926.3" stroke="#6c6c6c"/><line x1="356" y1="926.3" x2="361.7" y2="910.6" stroke="#6c6c6c"/><line x1="357.8" y1="944.7" x2="363.5" y2="929" stroke="#6c6c6c"/><line x1="363.5" y1="929" x2="369.3" y2="913.4" stroke="#6c6c6c"/><line x1="412.3" y1="904.9" x2="417.1" y2="894.1" stroke="#6c6c6c"/><line x1="417.1" y1="894.1" x2="422" y2="883.4" stroke="#c80000"/><line x1="418.5" y1="907.7" x2="423.4" y2="897" stroke="#6c6c6c"/><line x1="423.4" y1="897" x2="428.3" y2="886.3" stroke="#c80000"/></g>
<g stroke-width="1.7" stroke-linecap="round"><line x1="350.2" y1="941.9" x2="356" y2="926.3" stroke="#9a9a9a"/><line x1="356" y1="926.3" x2="361.7" y2="910.6" stroke="#9a9a9a"/><line x1="357.8" y1="944.7" x2="363.5" y2="929" stroke="#9a9a9a"/><line x1="363.5" y1="929" x2="369.3" y2="913.4" stroke="#9a9a9a"/><line x1="412.3" y1="904.9" x2="417.1" y2="894.1" stroke="#9a9a9a"/><line x1="417.1" y1="894.1" x2="422" y2="883.4" stroke="#e81818"/><line x1="418.5" y1="907.7" x2="423.4" y2="897" stroke="#9a9a9a"/><line x1="423.4" y1="897" x2="428.3" y2="886.3" stroke="#e81818"/></g>
<circle cx="425.1" cy="884.8" r="3.5" fill="#c80000" stroke="#7e0000" stroke-width="1.4"/>
<g stroke-width="13.8"><line x1="229.8" y1="930.4" x2="282.6" y2="924.1" stroke="#474747"/><line x1="282.6" y1="924.1" x2="305.4" y2="950.9" stroke="#474747"/><line x1="305.4" y1="950.9" x2="281.4" y2="984.1" stroke="#474747"/><line x1="281.4" y1="984.1" x2="234.3" y2="990.4" stroke="#474747"/><line x1="234.3" y1="990.4" x2="209" y2="964.9" stroke="#474747"/><line x1="209" y1="964.9" x2="229.8" y2="930.4" stroke="#474747"/><line x1="229.8" y1="930.4" x2="215.8" y2="914.1" stroke="#474747"/><line x1="215.8" y1="914.1" x2="201.8" y2="897.7" stroke="#7e0000"/><line x1="201.8" y1="897.7" x2="182.9" y2="903.9" stroke="#7e0000"/><line x1="182.9" y1="903.9" x2="164" y2="910" stroke="#7e7e7e"/><line x1="282.6" y1="924.1" x2="292.1" y2="909.4" stroke="#474747"/><line x1="292.1" y1="909.4" x2="301.6" y2="894.7" stroke="#7e7e7e"/><line x1="209" y1="964.9" x2="182.8" y2="968" stroke="#474747"/><line x1="182.8" y1="968" x2="156.6" y2="971.1" stroke="#7e0000"/><line x1="156.6" y1="971.1" x2="154.4" y2="987.7" stroke="#7e0000"/><line x1="154.4" y1="987.7" x2="152.3" y2="1004.4" stroke="#7e7e7e"/><line x1="234.3" y1="990.4" x2="224.4" y2="1004.7" stroke="#474747"/><line x1="224.4" y1="1004.7" x2="214.5" y2="1018.9" stroke="#7e0000"/><line x1="214.5" y1="1018.9" x2="199.1" y2="1014" stroke="#7e0000"/><line x1="199.1" y1="1014" x2="183.7" y2="1009.1" stroke="#7e7e7e"/><line x1="281.4" y1="984.1" x2="289.7" y2="993.3" stroke="#474747"/><line x1="289.7" y1="993.3" x2="297.9" y2="1002.4" stroke="#7e7e7e"/><line x1="305.4" y1="950.9" x2="354" y2="943.3" stroke="#474747"/><line x1="365.5" y1="912" x2="353.1" y2="897.9" stroke="#474747"/><line x1="353.1" y1="897.9" x2="340.8" y2="883.9" stroke="#7e0000"/><line x1="340.8" y1="883.9" x2="325.8" y2="886.6" stroke="#7e0000"/><line x1="325.8" y1="886.6" x2="310.8" y2="889.3" stroke="#7e7e7e"/><line x1="365.5" y1="912" x2="415.4" y2="906.3" stroke="#474747"/><line x1="354" y1="943.3" x2="368.1" y2="960.3" stroke="#474747"/><line x1="368.1" y1="960.3" x2="382.2" y2="977.3" stroke="#7e0000"/><line x1="382.2" y1="977.3" x2="407.1" y2="975" stroke="#7e0000"/><line x1="407.1" y1="975" x2="432" y2="972.7" stroke="#474747"/><line x1="432" y1="972.7" x2="445.8" y2="940.3" stroke="#474747"/><line x1="445.8" y1="940.3" x2="415.4" y2="906.3" stroke="#474747"/><line x1="445.8" y1="940.3" x2="489.8" y2="940.3" stroke="#474747"/><line x1="489.8" y1="940.3" x2="520" y2="970.9" stroke="#474747"/><line x1="520" y1="970.9" x2="508.4" y2="1006.6" stroke="#474747"/><line x1="508.4" y1="1006.6" x2="460.9" y2="1009.6" stroke="#474747"/><line x1="460.9" y1="1009.6" x2="432" y2="972.7" stroke="#474747"/><line x1="489.8" y1="940.3" x2="496.8" y2="924" stroke="#474747"/><line x1="496.8" y1="924" x2="503.7" y2="907.8" stroke="#7e0000"/><line x1="503.7" y1="907.8" x2="491.3" y2="900" stroke="#7e0000"/><line x1="491.3" y1="900" x2="478.8" y2="892.1" stroke="#7e7e7e"/><line x1="520" y1="970.9" x2="538" y2="970.9" stroke="#474747"/><line x1="538" y1="970.9" x2="555.9" y2="970.9" stroke="#7e7e7e"/><line x1="508.4" y1="1006.6" x2="526.2" y2="1024.4" stroke="#474747"/><line x1="526.2" y1="1024.4" x2="544" y2="1042.1" stroke="#7e0000"/><line x1="544" y1="1042.1" x2="558.4" y2="1038.2" stroke="#7e0000"/><line x1="558.4" y1="1038.2" x2="572.7" y2="1034.4" stroke="#7e7e7e"/><line x1="460.9" y1="1009.6" x2="455.4" y2="1023" stroke="#474747"/><line x1="455.4" y1="1023" x2="449.8" y2="1036.3" stroke="#7e7e7e"/><circle cx="229.8" cy="930.4" r="6.9" fill="#474747"/><circle cx="282.6" cy="924.1" r="6.9" fill="#474747"/><circle cx="305.4" cy="950.9" r="6.9" fill="#474747"/><circle cx="281.4" cy="984.1" r="6.9" fill="#474747"/><circle cx="234.3" cy="990.4" r="6.9" fill="#474747"/><circle cx="209" cy="964.9" r="6.9" fill="#474747"/><circle cx="201.8" cy="897.7" r="6.9" fill="#7e0000"/><circle cx="164" cy="910" r="6.9" fill="#7e7e7e"/><circle cx="301.6" cy="894.7" r="6.9" fill="#7e7e7e"/><circle cx="156.6" cy="971.1" r="6.9" fill="#7e0000"/><circle cx="152.3" cy="1004.4" r="6.9" fill="#7e7e7e"/><circle cx="214.5" cy="1018.9" r="6.9" fill="#7e0000"/><circle cx="183.7" cy="1009.1" r="6.9" fill="#7e7e7e"/><circle cx="297.9" cy="1002.4" r="6.9" fill="#7e7e7e"/><circle cx="354" cy="943.3" r="6.9" fill="#474747"/><circle cx="365.5" cy="912" r="6.9" fill="#474747"/><circle cx="340.8" cy="883.9" r="6.9" fill="#7e0000"/><circle cx="310.8" cy="889.3" r="6.9" fill="#7e7e7e"/><circle cx="415.4" cy="906.3" r="6.9" fill="#474747"/><circle cx="382.2" cy="977.3" r="6.9" fill="#7e0000"/><circle cx="432" cy="972.7" r="6.9" fill="#474747"/><circle cx="445.8" cy="940.3" r="6.9" fill="#474747"/><circle cx="489.8" cy="940.3" r="6.9" fill="#474747"/><circle cx="520" cy="970.9" r="6.9" fill="#474747"/><circle cx="508.4" cy="1006.6" r="6.9" fill="#474747"/><circle cx="460.9" cy="1009.6" r="6.9" fill="#474747"/><circle cx="503.7" cy="907.8" r="6.9" fill="#7e0000"/><circle cx="478.8" cy="892.1" r="6.9" fill="#7e7e7e"/><circle cx="555.9" cy="970.9" r="6.9" fill="#7e7e7e"/><circle cx="544" cy="1042.1" r="6.9" fill="#7e0000"/><circle cx="572.7" cy="1034.4" r="6.9" fill="#7e7e7e"/><circle cx="449.8" cy="1036.3" r="6.9" fill="#7e7e7e"/></g>
<g stroke-width="11"><line x1="229.8" y1="930.4" x2="282.6" y2="924.1" stroke="#6c6c6c"/><line x1="282.6" y1="924.1" x2="305.4" y2="950.9" stroke="#6c6c6c"/><line x1="305.4" y1="950.9" x2="281.4" y2="984.1" stroke="#6c6c6c"/><line x1="281.4" y1="984.1" x2="234.3" y2="990.4" stroke="#6c6c6c"/><line x1="234.3" y1="990.4" x2="209" y2="964.9" stroke="#6c6c6c"/><line x1="209" y1="964.9" x2="229.8" y2="930.4" stroke="#6c6c6c"/><line x1="229.8" y1="930.4" x2="215.8" y2="914.1" stroke="#6c6c6c"/><line x1="215.8" y1="914.1" x2="201.8" y2="897.7" stroke="#c80000"/><line x1="201.8" y1="897.7" x2="182.9" y2="903.9" stroke="#c80000"/><line x1="182.9" y1="903.9" x2="164" y2="910" stroke="#bcbcbc"/><line x1="282.6" y1="924.1" x2="292.1" y2="909.4" stroke="#6c6c6c"/><line x1="292.1" y1="909.4" x2="301.6" y2="894.7" stroke="#bcbcbc"/><line x1="209" y1="964.9" x2="182.8" y2="968" stroke="#6c6c6c"/><line x1="182.8" y1="968" x2="156.6" y2="971.1" stroke="#c80000"/><line x1="156.6" y1="971.1" x2="154.4" y2="987.7" stroke="#c80000"/><line x1="154.4" y1="987.7" x2="152.3" y2="1004.4" stroke="#bcbcbc"/><line x1="234.3" y1="990.4" x2="224.4" y2="1004.7" stroke="#6c6c6c"/><line x1="224.4" y1="1004.7" x2="214.5" y2="1018.9" stroke="#c80000"/><line x1="214.5" y1="1018.9" x2="199.1" y2="1014" stroke="#c80000"/><line x1="199.1" y1="1014" x2="183.7" y2="1009.1" stroke="#bcbcbc"/><line x1="281.4" y1="984.1" x2="289.7" y2="993.3" stroke="#6c6c6c"/><line x1="289.7" y1="993.3" x2="297.9" y2="1002.4" stroke="#bcbcbc"/><line x1="305.4" y1="950.9" x2="354" y2="943.3" stroke="#6c6c6c"/><line x1="365.5" y1="912" x2="353.1" y2="897.9" stroke="#6c6c6c"/><line x1="353.1" y1="897.9" x2="340.8" y2="883.9" stroke="#c80000"/><line x1="340.8" y1="883.9" x2="325.8" y2="886.6" stroke="#c80000"/><line x1="325.8" y1="886.6" x2="310.8" y2="889.3" stroke="#bcbcbc"/><line x1="365.5" y1="912" x2="415.4" y2="906.3" stroke="#6c6c6c"/><line x1="354" y1="943.3" x2="368.1" y2="960.3" stroke="#6c6c6c"/><line x1="368.1" y1="960.3" x2="382.2" y2="977.3" stroke="#c80000"/><line x1="382.2" y1="977.3" x2="407.1" y2="975" stroke="#c80000"/><line x1="407.1" y1="975" x2="432" y2="972.7" stroke="#6c6c6c"/><line x1="432" y1="972.7" x2="445.8" y2="940.3" stroke="#6c6c6c"/><line x1="445.8" y1="940.3" x2="415.4" y2="906.3" stroke="#6c6c6c"/><line x1="445.8" y1="940.3" x2="489.8" y2="940.3" stroke="#6c6c6c"/><line x1="489.8" y1="940.3" x2="520" y2="970.9" stroke="#6c6c6c"/><line x1="520" y1="970.9" x2="508.4" y2="1006.6" stroke="#6c6c6c"/><line x1="508.4" y1="1006.6" x2="460.9" y2="1009.6" stroke="#6c6c6c"/><line x1="460.9" y1="1009.6" x2="432" y2="972.7" stroke="#6c6c6c"/><line x1="489.8" y1="940.3" x2="496.8" y2="924" stroke="#6c6c6c"/><line x1="496.8" y1="924" x2="503.7" y2="907.8" stroke="#c80000"/><line x1="503.7" y1="907.8" x2="491.3" y2="900" stroke="#c80000"/><line x1="491.3" y1="900" x2="478.8" y2="892.1" stroke="#bcbcbc"/><line x1="520" y1="970.9" x2="538" y2="970.9" stroke="#6c6c6c"/><line x1="538" y1="970.9" x2="555.9" y2="970.9" stroke="#bcbcbc"/><line x1="508.4" y1="1006.6" x2="526.2" y2="1024.4" stroke="#6c6c6c"/><line x1="526.2" y1="1024.4" x2="544" y2="1042.1" stroke="#c80000"/><line x1="544" y1="1042.1" x2="558.4" y2="1038.2" stroke="#c80000"/><line x1="558.4" y1="1038.2" x2="572.7" y2="1034.4" stroke="#bcbcbc"/><line x1="460.9" y1="1009.6" x2="455.4" y2="1023" stroke="#6c6c6c"/><line x1="455.4" y1="1023" x2="449.8" y2="1036.3" stroke="#bcbcbc"/><circle cx="229.8" cy="930.4" r="5.5" fill="#6c6c6c"/><circle cx="282.6" cy="924.1" r="5.5" fill="#6c6c6c"/><circle cx="305.4" cy="950.9" r="5.5" fill="#6c6c6c"/><circle cx="281.4" cy="984.1" r="5.5" fill="#6c6c6c"/><circle cx="234.3" cy="990.4" r="5.5" fill="#6c6c6c"/><circle cx="209" cy="964.9" r="5.5" fill="#6c6c6c"/><circle cx="201.8" cy="897.7" r="5.5" fill="#c80000"/><circle cx="164" cy="910" r="5.5" fill="#bcbcbc"/><circle cx="301.6" cy="894.7" r="5.5" fill="#bcbcbc"/><circle cx="156.6" cy="971.1" r="5.5" fill="#c80000"/><circle cx="152.3" cy="1004.4" r="5.5" fill="#bcbcbc"/><circle cx="214.5" cy="1018.9" r="5.5" fill="#c80000"/><circle cx="183.7" cy="1009.1" r="5.5" fill="#bcbcbc"/><circle cx="297.9" cy="1002.4" r="5.5" fill="#bcbcbc"/><circle cx="354" cy="943.3" r="5.5" fill="#6c6c6c"/><circle cx="365.5" cy="912" r="5.5" fill="#6c6c6c"/><circle cx="340.8" cy="883.9" r="5.5" fill="#c80000"/><circle cx="310.8" cy="889.3" r="5.5" fill="#bcbcbc"/><circle cx="415.4" cy="906.3" r="5.5" fill="#6c6c6c"/><circle cx="382.2" cy="977.3" r="5.5" fill="#c80000"/><circle cx="432" cy="972.7" r="5.5" fill="#6c6c6c"/><circle cx="445.8" cy="940.3" r="5.5" fill="#6c6c6c"/><circle cx="489.8" cy="940.3" r="5.5" fill="#6c6c6c"/><circle cx="520" cy="970.9" r="5.5" fill="#6c6c6c"/><circle cx="508.4" cy="1006.6" r="5.5" fill="#6c6c6c"/><circle cx="460.9" cy="1009.6" r="5.5" fill="#6c6c6c"/><circle cx="503.7" cy="907.8" r="5.5" fill="#c80000"/><circle cx="478.8" cy="892.1" r="5.5" fill="#bcbcbc"/><circle cx="555.9" cy="970.9" r="5.5" fill="#bcbcbc"/><circle cx="544" cy="1042.1" r="5.5" fill="#c80000"/><circle cx="572.7" cy="1034.4" r="5.5" fill="#bcbcbc"/><circle cx="449.8" cy="1036.3" r="5.5" fill="#bcbcbc"/></g>
<g stroke-width="7.7" stroke-linecap="butt"><line x1="229.7" y1="929.5" x2="282.5" y2="923.2" stroke="#9a9a9a" stroke-opacity="0.8"/><line x1="281.3" y1="983.2" x2="234.2" y2="989.5" stroke="#9a9a9a" stroke-opacity="0.8"/><line x1="235" y1="989.7" x2="209.7" y2="964.3" stroke="#9a9a9a" stroke-opacity="0.1"/><line x1="201.5" y1="896.8" x2="182.6" y2="903" stroke="#e81818" stroke-opacity="0.6"/><line x1="182.6" y1="903" x2="163.7" y2="909.1" stroke="#e0e0e0" stroke-opacity="0.7"/><line x1="291.3" y1="908.9" x2="300.8" y2="894.2" stroke="#e0e0e0" stroke-opacity="0.3"/><line x1="208.9" y1="964" x2="182.7" y2="967.1" stroke="#9a9a9a" stroke-opacity="0.8"/><line x1="182.7" y1="967.1" x2="156.5" y2="970.1" stroke="#e81818" stroke-opacity="0.8"/><line x1="153.5" y1="987.6" x2="151.3" y2="1004.2" stroke="#e0e0e0" stroke-opacity="0.3"/><line x1="214.8" y1="1018" x2="199.4" y2="1013.1" stroke="#e81818" stroke-opacity="0.6"/><line x1="199.4" y1="1013.1" x2="183.9" y2="1008.1" stroke="#e0e0e0" stroke-opacity="0.7"/><line x1="282.1" y1="983.5" x2="290.4" y2="992.6" stroke="#9a9a9a" stroke-opacity="0.1"/><line x1="290.4" y1="992.6" x2="298.7" y2="1001.8" stroke="#e0e0e0" stroke-opacity="0.4"/><line x1="305.2" y1="950" x2="353.8" y2="942.3" stroke="#9a9a9a" stroke-opacity="0.8"/><line x1="340.6" y1="882.9" x2="325.6" y2="885.6" stroke="#e81818" stroke-opacity="0.8"/><line x1="325.6" y1="885.6" x2="310.7" y2="888.3" stroke="#e0e0e0" stroke-opacity="0.8"/><line x1="365.4" y1="911.1" x2="415.3" y2="905.3" stroke="#9a9a9a" stroke-opacity="0.8"/><line x1="382.1" y1="976.3" x2="407" y2="974" stroke="#e81818" stroke-opacity="0.9"/><line x1="407" y1="974" x2="431.9" y2="971.7" stroke="#9a9a9a" stroke-opacity="0.9"/><line x1="446.5" y1="939.6" x2="416.1" y2="905.6" stroke="#9a9a9a" stroke-opacity="0.1"/><line x1="445.8" y1="939.3" x2="489.8" y2="939.3" stroke="#9a9a9a" stroke-opacity="0.9"/><line x1="490.5" y1="939.6" x2="520.7" y2="970.3" stroke="#9a9a9a" stroke-opacity="0.1"/><line x1="508.3" y1="1005.6" x2="460.8" y2="1008.6" stroke="#9a9a9a" stroke-opacity="0.9"/><line x1="504.2" y1="907" x2="491.8" y2="899.2" stroke="#e81818" stroke-opacity="0.3"/><line x1="491.8" y1="899.2" x2="479.3" y2="891.3" stroke="#e0e0e0" stroke-opacity="0.5"/><line x1="520" y1="970" x2="538" y2="970" stroke="#9a9a9a" stroke-opacity="0.9"/><line x1="538" y1="970" x2="555.9" y2="970" stroke="#e0e0e0" stroke-opacity="0.9"/><line x1="509.1" y1="1005.9" x2="526.9" y2="1023.7" stroke="#9a9a9a" stroke-opacity="0.1"/><line x1="526.9" y1="1023.7" x2="544.7" y2="1041.5" stroke="#e81818" stroke-opacity="0.1"/><line x1="543.7" y1="1041.2" x2="558.1" y2="1037.3" stroke="#e81818" stroke-opacity="0.7"/><line x1="558.1" y1="1037.3" x2="572.5" y2="1033.4" stroke="#e0e0e0" stroke-opacity="0.7"/><line x1="454.5" y1="1022.6" x2="448.9" y2="1036" stroke="#e0e0e0" stroke-opacity="0.3"/></g>
<g stroke-width="4.1" stroke-linecap="butt"><line x1="229.7" y1="929.5" x2="282.5" y2="923.2" stroke="#f4f4f4" stroke-opacity="0.7"/><line x1="281.3" y1="983.2" x2="234.2" y2="989.5" stroke="#f4f4f4" stroke-opacity="0.6"/><line x1="235" y1="989.7" x2="209.7" y2="964.3" stroke="#f4f4f4" stroke-opacity="0.1"/><line x1="201.5" y1="896.8" x2="182.6" y2="903" stroke="#ffdcdc" stroke-opacity="0.5"/><line x1="182.6" y1="903" x2="163.7" y2="909.1" stroke="#ffffff" stroke-opacity="0.5"/><line x1="291.3" y1="908.9" x2="300.8" y2="894.2" stroke="#ffffff" stroke-opacity="0.3"/><line x1="208.9" y1="964" x2="182.7" y2="967.1" stroke="#f4f4f4" stroke-opacity="0.7"/><line x1="182.7" y1="967.1" x2="156.5" y2="970.1" stroke="#ffdcdc" stroke-opacity="0.7"/><line x1="153.5" y1="987.6" x2="151.3" y2="1004.2" stroke="#ffffff" stroke-opacity="0.2"/><line x1="214.8" y1="1018" x2="199.4" y2="1013.1" stroke="#ffdcdc" stroke-opacity="0.5"/><line x1="199.4" y1="1013.1" x2="183.9" y2="1008.1" stroke="#ffffff" stroke-opacity="0.5"/><line x1="290.4" y1="992.6" x2="298.7" y2="1001.8" stroke="#ffffff" stroke-opacity="0.3"/><line x1="305.2" y1="950" x2="353.8" y2="942.3" stroke="#f4f4f4" stroke-opacity="0.6"/><line x1="340.6" y1="882.9" x2="325.6" y2="885.6" stroke="#ffdcdc" stroke-opacity="0.6"/><line x1="325.6" y1="885.6" x2="310.7" y2="888.3" stroke="#ffffff" stroke-opacity="0.6"/><line x1="365.4" y1="911.1" x2="415.3" y2="905.3" stroke="#f4f4f4" stroke-opacity="0.7"/><line x1="382.1" y1="976.3" x2="407" y2="974" stroke="#ffdcdc" stroke-opacity="0.7"/><line x1="407" y1="974" x2="431.9" y2="971.7" stroke="#f4f4f4" stroke-opacity="0.7"/><line x1="445.8" y1="939.3" x2="489.8" y2="939.3" stroke="#f4f4f4" stroke-opacity="0.7"/><line x1="490.5" y1="939.6" x2="520.7" y2="970.3" stroke="#f4f4f4" stroke-opacity="0.1"/><line x1="508.3" y1="1005.6" x2="460.8" y2="1008.6" stroke="#f4f4f4" stroke-opacity="0.7"/><line x1="504.2" y1="907" x2="491.8" y2="899.2" stroke="#ffdcdc" stroke-opacity="0.2"/><line x1="491.8" y1="899.2" x2="479.3" y2="891.3" stroke="#ffffff" stroke-opacity="0.4"/><line x1="520" y1="970" x2="538" y2="970" stroke="#f4f4f4" stroke-opacity="0.7"/><line x1="538" y1="970" x2="555.9" y2="970" stroke="#ffffff" stroke-opacity="0.7"/><line x1="509.1" y1="1005.9" x2="526.9" y2="1023.7" stroke="#f4f4f4" stroke-opacity="0.1"/><line x1="526.9" y1="1023.7" x2="544.7" y2="1041.5" stroke="#ffdcdc" stroke-opacity="0.1"/><line x1="543.7" y1="1041.2" x2="558.1" y2="1037.3" stroke="#ffdcdc" stroke-opacity="0.5"/><line x1="558.1" y1="1037.3" x2="572.5" y2="1033.4" stroke="#ffffff" stroke-opacity="0.6"/><line x1="454.5" y1="1022.6" x2="448.9" y2="1036" stroke="#ffffff" stroke-opacity="0.2"/></g>
<g stroke-width="1.8" stroke-linecap="butt"><line x1="229.7" y1="929.5" x2="282.5" y2="923.2" stroke="#f4f4f4" stroke-opacity="0.8"/><line x1="281.3" y1="983.2" x2="234.2" y2="989.5" stroke="#f4f4f4" stroke-opacity="0.8"/><line x1="235" y1="989.7" x2="209.7" y2="964.3" stroke="#f4f4f4" stroke-opacity="0.1"/><line x1="201.5" y1="896.8" x2="182.6" y2="903" stroke="#ffdcdc" stroke-opacity="0.6"/><line x1="182.6" y1="903" x2="163.7" y2="909.1" stroke="#ffffff" stroke-opacity="0.7"/><line x1="291.3" y1="908.9" x2="300.8" y2="894.2" stroke="#ffffff" stroke-opacity="0.3"/><line x1="208.9" y1="964" x2="182.7" y2="967.1" stroke="#f4f4f4" stroke-opacity="0.8"/><line x1="182.7" y1="967.1" x2="156.5" y2="970.1" stroke="#ffdcdc" stroke-opacity="0.8"/><line x1="153.5" y1="987.6" x2="151.3" y2="1004.2" stroke="#ffffff" stroke-opacity="0.3"/><line x1="214.8" y1="1018" x2="199.4" y2="1013.1" stroke="#ffdcdc" stroke-opacity="0.6"/><line x1="199.4" y1="1013.1" x2="183.9" y2="1008.1" stroke="#ffffff" stroke-opacity="0.7"/><line x1="282.1" y1="983.5" x2="290.4" y2="992.6" stroke="#f4f4f4" stroke-opacity="0.1"/><line x1="290.4" y1="992.6" x2="298.7" y2="1001.8" stroke="#ffffff" stroke-opacity="0.4"/><line x1="305.2" y1="950" x2="353.8" y2="942.3" stroke="#f4f4f4" stroke-opacity="0.8"/><line x1="340.6" y1="882.9" x2="325.6" y2="885.6" stroke="#ffdcdc" stroke-opacity="0.8"/><line x1="325.6" y1="885.6" x2="310.7" y2="888.3" stroke="#ffffff" stroke-opacity="0.8"/><line x1="365.4" y1="911.1" x2="415.3" y2="905.3" stroke="#f4f4f4" stroke-opacity="0.8"/><line x1="382.1" y1="976.3" x2="407" y2="974" stroke="#ffdcdc" stroke-opacity="0.9"/><line x1="407" y1="974" x2="431.9" y2="971.7" stroke="#f4f4f4" stroke-opacity="0.9"/><line x1="446.5" y1="939.6" x2="416.1" y2="905.6" stroke="#f4f4f4" stroke-opacity="0.1"/><line x1="445.8" y1="939.3" x2="489.8" y2="939.3" stroke="#f4f4f4" stroke-opacity="0.9"/><line x1="490.5" y1="939.6" x2="520.7" y2="970.3" stroke="#f4f4f4" stroke-opacity="0.1"/><line x1="508.3" y1="1005.6" x2="460.8" y2="1008.6" stroke="#f4f4f4" stroke-opacity="0.9"/><line x1="504.2" y1="907" x2="491.8" y2="899.2" stroke="#ffdcdc" stroke-opacity="0.3"/><line x1="491.8" y1="899.2" x2="479.3" y2="891.3" stroke="#ffffff" stroke-opacity="0.5"/><line x1="520" y1="970" x2="538" y2="970" stroke="#f4f4f4" stroke-opacity="0.9"/><line x1="538" y1="970" x2="555.9" y2="970" stroke="#ffffff" stroke-opacity="0.9"/><line x1="509.1" y1="1005.9" x2="526.9" y2="1023.7" stroke="#f4f4f4" stroke-opacity="0.1"/><line x1="526.9" y1="1023.7" x2="544.7" y2="1041.5" stroke="#ffdcdc" stroke-opacity="0.1"/><line x1="543.7" y1="1041.2" x2="558.1" y2="1037.3" stroke="#ffdcdc" stroke-opacity="0.7"/><line x1="558.1" y1="1037.3" x2="572.5" y2="1033.4" stroke="#ffffff" stroke-opacity="0.7"/><line x1="454.5" y1="1022.6" x2="448.9" y2="1036" stroke="#ffffff" stroke-opacity="0.3"/></g>
</g>
<line x1="211" y1="976" x2="523.4" y2="978" stroke="#f00" stroke-width="2.1" stroke-dasharray="7.6 3.6"/>
<g transform="translate(0 1000) scale(1 1) translate(0 -1000)">
<g stroke="#505050" stroke-width="1.45"><line x1="824" y1="1042.1" x2="851.1" y2="1016.8" stroke-dasharray="7.1 8.5" stroke-dashoffset="-7.2" stroke="#a4a4a4" stroke-width="3.5"/><line x1="851.1" y1="1016.8" x2="892.6" y2="1024.7" stroke-dasharray="8 9.7" stroke-dashoffset="-8.2" stroke="#a4a4a4" stroke-width="3.5"/><line x1="892.6" y1="1024.7" x2="897" y2="1048.1" stroke-dasharray="4.5 5.5" stroke-dashoffset="-4.6" stroke="#a4a4a4" stroke-width="3.5"/><line x1="897" y1="1048.1" x2="870.9" y2="1069.9" stroke-dasharray="6.5 7.8" stroke-dashoffset="-6.6" stroke="#a4a4a4" stroke-width="3.5"/><line x1="870.9" y1="1069.9" x2="829.8" y2="1065.4" stroke-dasharray="7.9 9.5" stroke-dashoffset="-8.1" stroke="#a4a4a4" stroke-width="3.5"/><line x1="829.8" y1="1065.4" x2="824" y2="1042.1" stroke-dasharray="4.6 5.5" stroke-dashoffset="-4.7" stroke="#a4a4a4" stroke-width="3.5"/><line x1="822.8" y1="1041.7" x2="850.8" y2="1015.5" stroke-dasharray="7.3 8.8" stroke-dashoffset="-7.5"/><line x1="850.8" y1="1015.5" x2="893.6" y2="1023.7" stroke-dasharray="8.3 10" stroke-dashoffset="-8.5"/><line x1="893.6" y1="1023.7" x2="898.2" y2="1048.5" stroke-dasharray="4.8 5.8" stroke-dashoffset="-4.9"/><line x1="898.2" y1="1048.5" x2="871.3" y2="1071.1" stroke-dasharray="6.7 8.1" stroke-dashoffset="-6.8"/><line x1="871.3" y1="1071.1" x2="828.9" y2="1066.5" stroke-dasharray="8.1 9.8" stroke-dashoffset="-8.3"/><line x1="828.9" y1="1066.5" x2="822.8" y2="1041.7" stroke-dasharray="4.8 5.9" stroke-dashoffset="-5"/><line x1="825.3" y1="1042.5" x2="851.5" y2="1018" stroke-dasharray="6.8 8.2" stroke-dashoffset="-7"/><line x1="851.5" y1="1018" x2="891.6" y2="1025.7" stroke-dasharray="7.8 9.4" stroke-dashoffset="-8"/><line x1="891.6" y1="1025.7" x2="895.7" y2="1047.6" stroke-dasharray="4.2 5.1" stroke-dashoffset="-4.4"/><line x1="895.7" y1="1047.6" x2="870.6" y2="1068.7" stroke-dasharray="6.2 7.5" stroke-dashoffset="-6.4"/><line x1="870.6" y1="1068.7" x2="830.7" y2="1064.3" stroke-dasharray="7.6 9.2" stroke-dashoffset="-7.8"/><line x1="830.7" y1="1064.3" x2="825.3" y2="1042.5" stroke-dasharray="4.3 5.2" stroke-dashoffset="-4.4"/><line x1="1114.4" y1="956.4" x2="1145" y2="962" stroke-dasharray="5.9 7.2" stroke-dashoffset="-6.1" stroke="#a4a4a4" stroke-width="3.5"/><line x1="1145" y1="962" x2="1145.7" y2="987" stroke-dasharray="4.8 5.8" stroke-dashoffset="-4.9" stroke="#a4a4a4" stroke-width="3.5"/><line x1="1145.7" y1="987" x2="1114.6" y2="1011.7" stroke-dasharray="7.6 9.1" stroke-dashoffset="-7.7" stroke="#a4a4a4" stroke-width="3.5"/><line x1="1114.6" y1="1011.7" x2="1083.5" y2="1006" stroke-dasharray="6 7.3" stroke-dashoffset="-6.2" stroke="#a4a4a4" stroke-width="3.5"/><line x1="1083.5" y1="1006" x2="1080.6" y2="981" stroke-dasharray="4.8 5.8" stroke-dashoffset="-4.9" stroke="#a4a4a4" stroke-width="3.5"/><line x1="1080.6" y1="981" x2="1114.4" y2="956.4" stroke-dasharray="7.9 9.6" stroke-dashoffset="-8.2" stroke="#a4a4a4" stroke-width="3.5"/><line x1="1114.1" y1="955.2" x2="1146.1" y2="961" stroke-dasharray="6.2 7.5" stroke-dashoffset="-6.3"/><line x1="1146.1" y1="961" x2="1146.9" y2="987.6" stroke-dasharray="5 6.1" stroke-dashoffset="-5.2"/><line x1="1146.9" y1="987.6" x2="1114.9" y2="1012.9" stroke-dasharray="7.8 9.4" stroke-dashoffset="-8"/><line x1="1114.9" y1="1012.9" x2="1082.4" y2="1006.9" stroke-dasharray="6.3 7.6" stroke-dashoffset="-6.4"/><line x1="1082.4" y1="1006.9" x2="1079.4" y2="980.5" stroke-dasharray="5.1 6.1" stroke-dashoffset="-5.2"/><line x1="1079.4" y1="980.5" x2="1114.1" y2="955.2" stroke-dasharray="8.2 9.9" stroke-dashoffset="-8.4"/><line x1="1114.6" y1="957.6" x2="1143.9" y2="963" stroke-dasharray="5.6 6.8" stroke-dashoffset="-5.8"/><line x1="1143.9" y1="963" x2="1144.6" y2="986.5" stroke-dasharray="4.5 5.4" stroke-dashoffset="-4.6"/><line x1="1144.6" y1="986.5" x2="1114.3" y2="1010.5" stroke-dasharray="7.3 8.9" stroke-dashoffset="-7.5"/><line x1="1114.3" y1="1010.5" x2="1084.5" y2="1005" stroke-dasharray="5.7 7" stroke-dashoffset="-5.9"/><line x1="1084.5" y1="1005" x2="1081.8" y2="981.5" stroke-dasharray="4.5 5.4" stroke-dashoffset="-4.6"/><line x1="1081.8" y1="981.5" x2="1114.6" y2="957.6" stroke-dasharray="7.7 9.3" stroke-dashoffset="-7.9"/></g>
<g stroke-width="5" stroke-linecap="round"><line x1="942.2" y1="976.9" x2="963.6" y2="987.3" stroke="#4d5296"/><line x1="963.6" y1="987.3" x2="985" y2="997.7" stroke="#474747"/><line x1="938.6" y1="984.3" x2="960" y2="994.7" stroke="#4d5296"/><line x1="960" y1="994.7" x2="981.4" y2="1005.1" stroke="#474747"/><line x1="1061.8" y1="875.9" x2="1084.9" y2="881.7" stroke="#474747"/><line x1="1084.9" y1="881.7" x2="1108" y2="887.5" stroke="#474747"/><line x1="1059.8" y1="883.7" x2="1082.9" y2="889.5" stroke="#474747"/><line x1="1082.9" y1="889.5" x2="1106" y2="895.3" stroke="#474747"/></g>
<g stroke-width="3.6" stroke-linecap="round"><line x1="942.2" y1="976.9" x2="963.6" y2="987.3" stroke="#7378c8"/><line x1="963.6" y1="987.3" x2="985" y2="997.7" stroke="#6c6c6c"/><line x1="938.6" y1="984.3" x2="960" y2="994.7" stroke="#7378c8"/><line x1="960" y1="994.7" x2="981.4" y2="1005.1" stroke="#6c6c6c"/><line x1="1061.8" y1="875.9" x2="1084.9" y2="881.7" stroke="#6c6c6c"/><line x1="1084.9" y1="881.7" x2="1108" y2="887.5" stroke="#6c6c6c"/><line x1="1059.8" y1="883.7" x2="1082.9" y2="889.5" stroke="#6c6c6c"/><line x1="1082.9" y1="889.5" x2="1106" y2="895.3" stroke="#6c6c6c"/></g>
<g stroke-width="1.7" stroke-linecap="round"><line x1="942.2" y1="976.9" x2="963.6" y2="987.3" stroke="#9095e8"/><line x1="963.6" y1="987.3" x2="985" y2="997.7" stroke="#9a9a9a"/><line x1="938.6" y1="984.3" x2="960" y2="994.7" stroke="#9095e8"/><line x1="960" y1="994.7" x2="981.4" y2="1005.1" stroke="#9a9a9a"/><line x1="1061.8" y1="875.9" x2="1084.9" y2="881.7" stroke="#9a9a9a"/><line x1="1084.9" y1="881.7" x2="1108" y2="887.5" stroke="#9a9a9a"/><line x1="1059.8" y1="883.7" x2="1082.9" y2="889.5" stroke="#9a9a9a"/><line x1="1082.9" y1="889.5" x2="1106" y2="895.3" stroke="#9a9a9a"/></g>
<g stroke-width="14"><line x1="811.8" y1="1038.5" x2="847.7" y2="1004.9" stroke="#474747"/><line x1="847.7" y1="1004.9" x2="902" y2="1015.3" stroke="#474747"/><line x1="902" y1="1015.3" x2="909" y2="1052.4" stroke="#474747"/><line x1="909" y1="1052.4" x2="874.4" y2="1081.3" stroke="#474747"/><line x1="874.4" y1="1081.3" x2="821" y2="1075.5" stroke="#474747"/><line x1="821" y1="1075.5" x2="811.8" y2="1038.5" stroke="#474747"/><line x1="811.8" y1="1038.5" x2="789.8" y2="1033.2" stroke="#474747"/><line x1="789.8" y1="1033.2" x2="767.8" y2="1028" stroke="#7e7e7e"/><line x1="847.7" y1="1004.9" x2="843.7" y2="987" stroke="#474747"/><line x1="843.7" y1="987" x2="839.6" y2="969" stroke="#7e7e7e"/><line x1="909" y1="1052.4" x2="927.5" y2="1055.8" stroke="#474747"/><line x1="927.5" y1="1055.8" x2="946" y2="1059.3" stroke="#7e7e7e"/><line x1="874.4" y1="1081.3" x2="877.8" y2="1095.8" stroke="#474747"/><line x1="877.8" y1="1095.8" x2="881.3" y2="1110.3" stroke="#7e7e7e"/><line x1="821" y1="1075.5" x2="799" y2="1093.5" stroke="#474747"/><line x1="799" y1="1093.5" x2="777" y2="1111.4" stroke="#0a820a"/><line x1="902" y1="1015.3" x2="921.2" y2="998" stroke="#474747"/><line x1="921.2" y1="998" x2="940.4" y2="980.6" stroke="#4d5296"/><line x1="983.2" y1="1001.4" x2="1002.9" y2="984" stroke="#474747"/><line x1="1002.9" y1="984" x2="1022.5" y2="966.7" stroke="#4d5296"/><line x1="983.2" y1="1001.4" x2="988.1" y2="1033.8" stroke="#474747"/><line x1="988.1" y1="1033.8" x2="993" y2="1066.3" stroke="#a07a10"/><line x1="993" y1="1066.3" x2="1012.8" y2="1071.2" stroke="#a07a10"/><line x1="1012.8" y1="1071.2" x2="1032.5" y2="1076.2" stroke="#474747"/><line x1="1032.5" y1="1076.2" x2="1050.7" y2="1062" stroke="#474747"/><line x1="1050.7" y1="1062" x2="1068.9" y2="1047.7" stroke="#7e7e7e"/><line x1="1032.5" y1="1076.2" x2="1037.3" y2="1097.9" stroke="#474747"/><line x1="1037.3" y1="1097.9" x2="1042.2" y2="1119.6" stroke="#7e7e7e"/><line x1="1032.5" y1="1076.2" x2="1020.2" y2="1069.2" stroke="#474747"/><line x1="1020.2" y1="1069.2" x2="1008" y2="1062.2" stroke="#7e7e7e"/><line x1="1022.5" y1="966.7" x2="1018.2" y2="942.1" stroke="#4d5296"/><line x1="1018.2" y1="942.1" x2="1014" y2="917.5" stroke="#474747"/><line x1="1014" y1="917.5" x2="997.1" y2="905.9" stroke="#474747"/><line x1="997.1" y1="905.9" x2="980.3" y2="894.3" stroke="#7e7e7e"/><line x1="1014" y1="917.5" x2="1005" y2="923" stroke="#474747"/><line x1="1005" y1="923" x2="996" y2="928.5" stroke="#7e7e7e"/><line x1="1014" y1="917.5" x2="1060.8" y2="879.8" stroke="#474747"/><line x1="1060.8" y1="879.8" x2="1059.6" y2="857.8" stroke="#474747"/><line x1="1059.6" y1="857.8" x2="1058.4" y2="835.8" stroke="#7e7e7e"/><line x1="1107" y1="891.4" x2="1125" y2="876.9" stroke="#474747"/><line x1="1125" y1="876.9" x2="1143" y2="862.4" stroke="#7e7e7e"/><line x1="1107" y1="891.4" x2="1111.7" y2="944.7" stroke="#474747"/><line x1="1111.7" y1="944.7" x2="1068.9" y2="975.9" stroke="#474747"/><line x1="1068.9" y1="975.9" x2="1045.7" y2="971.3" stroke="#474747"/><line x1="1045.7" y1="971.3" x2="1022.5" y2="966.7" stroke="#4d5296"/><line x1="1111.7" y1="944.7" x2="1155.7" y2="952.8" stroke="#474747"/><line x1="1155.7" y1="952.8" x2="1172" y2="939.5" stroke="#474747"/><line x1="1172" y1="939.5" x2="1188.2" y2="926.1" stroke="#7e7e7e"/><line x1="1155.7" y1="952.8" x2="1156.9" y2="992.2" stroke="#474747"/><line x1="1156.9" y1="992.2" x2="1172.6" y2="995.7" stroke="#474747"/><line x1="1172.6" y1="995.7" x2="1188.2" y2="999.1" stroke="#7e7e7e"/><line x1="1156.9" y1="992.2" x2="1117.5" y2="1023.4" stroke="#474747"/><line x1="1117.5" y1="1023.4" x2="1118.7" y2="1038.5" stroke="#474747"/><line x1="1118.7" y1="1038.5" x2="1119.8" y2="1053.5" stroke="#7e7e7e"/><line x1="1117.5" y1="1023.4" x2="1073.5" y2="1015.3" stroke="#474747"/><line x1="1073.5" y1="1015.3" x2="1060.2" y2="1028.7" stroke="#474747"/><line x1="1060.2" y1="1028.7" x2="1046.9" y2="1042" stroke="#7e7e7e"/><line x1="1073.5" y1="1015.3" x2="1068.9" y2="975.9" stroke="#474747"/><circle cx="811.8" cy="1038.5" r="7" fill="#474747"/><circle cx="847.7" cy="1004.9" r="7" fill="#474747"/><circle cx="902" cy="1015.3" r="7" fill="#474747"/><circle cx="909" cy="1052.4" r="7" fill="#474747"/><circle cx="874.4" cy="1081.3" r="7" fill="#474747"/><circle cx="821" cy="1075.5" r="7" fill="#474747"/><circle cx="767.8" cy="1028" r="7" fill="#7e7e7e"/><circle cx="839.6" cy="969" r="7" fill="#7e7e7e"/><circle cx="946" cy="1059.3" r="7" fill="#7e7e7e"/><circle cx="881.3" cy="1110.3" r="7" fill="#7e7e7e"/><circle cx="777" cy="1111.4" r="7" fill="#0a820a"/><circle cx="940.4" cy="980.6" r="7" fill="#4d5296"/><circle cx="983.2" cy="1001.4" r="7" fill="#474747"/><circle cx="1022.5" cy="966.7" r="7" fill="#4d5296"/><circle cx="993" cy="1066.3" r="7" fill="#a07a10"/><circle cx="1032.5" cy="1076.2" r="7" fill="#474747"/><circle cx="1008" cy="1062.2" r="7" fill="#7e7e7e"/><circle cx="1068.9" cy="1047.7" r="7" fill="#7e7e7e"/><circle cx="1042.2" cy="1119.6" r="7" fill="#7e7e7e"/><circle cx="1014" cy="917.5" r="7" fill="#474747"/><circle cx="980.3" cy="894.3" r="7" fill="#7e7e7e"/><circle cx="996" cy="928.5" r="7" fill="#7e7e7e"/><circle cx="1060.8" cy="879.8" r="7" fill="#474747"/><circle cx="1058.4" cy="835.8" r="7" fill="#7e7e7e"/><circle cx="1107" cy="891.4" r="7" fill="#474747"/><circle cx="1143" cy="862.4" r="7" fill="#7e7e7e"/><circle cx="1111.7" cy="944.7" r="7" fill="#474747"/><circle cx="1068.9" cy="975.9" r="7" fill="#474747"/><circle cx="1155.7" cy="952.8" r="7" fill="#474747"/><circle cx="1188.2" cy="926.1" r="7" fill="#7e7e7e"/><circle cx="1156.9" cy="992.2" r="7" fill="#474747"/><circle cx="1188.2" cy="999.1" r="7" fill="#7e7e7e"/><circle cx="1117.5" cy="1023.4" r="7" fill="#474747"/><circle cx="1119.8" cy="1053.5" r="7" fill="#7e7e7e"/><circle cx="1073.5" cy="1015.3" r="7" fill="#474747"/><circle cx="1046.9" cy="1042" r="7" fill="#7e7e7e"/></g>
<g stroke-width="11.2"><line x1="811.8" y1="1038.5" x2="847.7" y2="1004.9" stroke="#6c6c6c"/><line x1="847.7" y1="1004.9" x2="902" y2="1015.3" stroke="#6c6c6c"/><line x1="902" y1="1015.3" x2="909" y2="1052.4" stroke="#6c6c6c"/><line x1="909" y1="1052.4" x2="874.4" y2="1081.3" stroke="#6c6c6c"/><line x1="874.4" y1="1081.3" x2="821" y2="1075.5" stroke="#6c6c6c"/><line x1="821" y1="1075.5" x2="811.8" y2="1038.5" stroke="#6c6c6c"/><line x1="811.8" y1="1038.5" x2="789.8" y2="1033.2" stroke="#6c6c6c"/><line x1="789.8" y1="1033.2" x2="767.8" y2="1028" stroke="#bcbcbc"/><line x1="847.7" y1="1004.9" x2="843.7" y2="987" stroke="#6c6c6c"/><line x1="843.7" y1="987" x2="839.6" y2="969" stroke="#bcbcbc"/><line x1="909" y1="1052.4" x2="927.5" y2="1055.8" stroke="#6c6c6c"/><line x1="927.5" y1="1055.8" x2="946" y2="1059.3" stroke="#bcbcbc"/><line x1="874.4" y1="1081.3" x2="877.8" y2="1095.8" stroke="#6c6c6c"/><line x1="877.8" y1="1095.8" x2="881.3" y2="1110.3" stroke="#bcbcbc"/><line x1="821" y1="1075.5" x2="799" y2="1093.5" stroke="#6c6c6c"/><line x1="799" y1="1093.5" x2="777" y2="1111.4" stroke="#14bc14"/><line x1="902" y1="1015.3" x2="921.2" y2="998" stroke="#6c6c6c"/><line x1="921.2" y1="998" x2="940.4" y2="980.6" stroke="#7378c8"/><line x1="983.2" y1="1001.4" x2="1002.9" y2="984" stroke="#6c6c6c"/><line x1="1002.9" y1="984" x2="1022.5" y2="966.7" stroke="#7378c8"/><line x1="983.2" y1="1001.4" x2="988.1" y2="1033.8" stroke="#6c6c6c"/><line x1="988.1" y1="1033.8" x2="993" y2="1066.3" stroke="#e4b224"/><line x1="993" y1="1066.3" x2="1012.8" y2="1071.2" stroke="#e4b224"/><line x1="1012.8" y1="1071.2" x2="1032.5" y2="1076.2" stroke="#6c6c6c"/><line x1="1032.5" y1="1076.2" x2="1050.7" y2="1062" stroke="#6c6c6c"/><line x1="1050.7" y1="1062" x2="1068.9" y2="1047.7" stroke="#bcbcbc"/><line x1="1032.5" y1="1076.2" x2="1037.3" y2="1097.9" stroke="#6c6c6c"/><line x1="1037.3" y1="1097.9" x2="1042.2" y2="1119.6" stroke="#bcbcbc"/><line x1="1032.5" y1="1076.2" x2="1020.2" y2="1069.2" stroke="#6c6c6c"/><line x1="1020.2" y1="1069.2" x2="1008" y2="1062.2" stroke="#bcbcbc"/><line x1="1022.5" y1="966.7" x2="1018.2" y2="942.1" stroke="#7378c8"/><line x1="1018.2" y1="942.1" x2="1014" y2="917.5" stroke="#6c6c6c"/><line x1="1014" y1="917.5" x2="997.1" y2="905.9" stroke="#6c6c6c"/><line x1="997.1" y1="905.9" x2="980.3" y2="894.3" stroke="#bcbcbc"/><line x1="1014" y1="917.5" x2="1005" y2="923" stroke="#6c6c6c"/><line x1="1005" y1="923" x2="996" y2="928.5" stroke="#bcbcbc"/><line x1="1014" y1="917.5" x2="1060.8" y2="879.8" stroke="#6c6c6c"/><line x1="1060.8" y1="879.8" x2="1059.6" y2="857.8" stroke="#6c6c6c"/><line x1="1059.6" y1="857.8" x2="1058.4" y2="835.8" stroke="#bcbcbc"/><line x1="1107" y1="891.4" x2="1125" y2="876.9" stroke="#6c6c6c"/><line x1="1125" y1="876.9" x2="1143" y2="862.4" stroke="#bcbcbc"/><line x1="1107" y1="891.4" x2="1111.7" y2="944.7" stroke="#6c6c6c"/><line x1="1111.7" y1="944.7" x2="1068.9" y2="975.9" stroke="#6c6c6c"/><line x1="1068.9" y1="975.9" x2="1045.7" y2="971.3" stroke="#6c6c6c"/><line x1="1045.7" y1="971.3" x2="1022.5" y2="966.7" stroke="#7378c8"/><line x1="1111.7" y1="944.7" x2="1155.7" y2="952.8" stroke="#6c6c6c"/><line x1="1155.7" y1="952.8" x2="1172" y2="939.5" stroke="#6c6c6c"/><line x1="1172" y1="939.5" x2="1188.2" y2="926.1" stroke="#bcbcbc"/><line x1="1155.7" y1="952.8" x2="1156.9" y2="992.2" stroke="#6c6c6c"/><line x1="1156.9" y1="992.2" x2="1172.6" y2="995.7" stroke="#6c6c6c"/><line x1="1172.6" y1="995.7" x2="1188.2" y2="999.1" stroke="#bcbcbc"/><line x1="1156.9" y1="992.2" x2="1117.5" y2="1023.4" stroke="#6c6c6c"/><line x1="1117.5" y1="1023.4" x2="1118.7" y2="1038.5" stroke="#6c6c6c"/><line x1="1118.7" y1="1038.5" x2="1119.8" y2="1053.5" stroke="#bcbcbc"/><line x1="1117.5" y1="1023.4" x2="1073.5" y2="1015.3" stroke="#6c6c6c"/><line x1="1073.5" y1="1015.3" x2="1060.2" y2="1028.7" stroke="#6c6c6c"/><line x1="1060.2" y1="1028.7" x2="1046.9" y2="1042" stroke="#bcbcbc"/><line x1="1073.5" y1="1015.3" x2="1068.9" y2="975.9" stroke="#6c6c6c"/><circle cx="811.8" cy="1038.5" r="5.6" fill="#6c6c6c"/><circle cx="847.7" cy="1004.9" r="5.6" fill="#6c6c6c"/><circle cx="902" cy="1015.3" r="5.6" fill="#6c6c6c"/><circle cx="909" cy="1052.4" r="5.6" fill="#6c6c6c"/><circle cx="874.4" cy="1081.3" r="5.6" fill="#6c6c6c"/><circle cx="821" cy="1075.5" r="5.6" fill="#6c6c6c"/><circle cx="767.8" cy="1028" r="5.6" fill="#bcbcbc"/><circle cx="839.6" cy="969" r="5.6" fill="#bcbcbc"/><circle cx="946" cy="1059.3" r="5.6" fill="#bcbcbc"/><circle cx="881.3" cy="1110.3" r="5.6" fill="#bcbcbc"/><circle cx="777" cy="1111.4" r="5.6" fill="#14bc14"/><circle cx="940.4" cy="980.6" r="5.6" fill="#7378c8"/><circle cx="983.2" cy="1001.4" r="5.6" fill="#6c6c6c"/><circle cx="1022.5" cy="966.7" r="5.6" fill="#7378c8"/><circle cx="993" cy="1066.3" r="5.6" fill="#e4b224"/><circle cx="1032.5" cy="1076.2" r="5.6" fill="#6c6c6c"/><circle cx="1008" cy="1062.2" r="5.6" fill="#bcbcbc"/><circle cx="1068.9" cy="1047.7" r="5.6" fill="#bcbcbc"/><circle cx="1042.2" cy="1119.6" r="5.6" fill="#bcbcbc"/><circle cx="1014" cy="917.5" r="5.6" fill="#6c6c6c"/><circle cx="980.3" cy="894.3" r="5.6" fill="#bcbcbc"/><circle cx="996" cy="928.5" r="5.6" fill="#bcbcbc"/><circle cx="1060.8" cy="879.8" r="5.6" fill="#6c6c6c"/><circle cx="1058.4" cy="835.8" r="5.6" fill="#bcbcbc"/><circle cx="1107" cy="891.4" r="5.6" fill="#6c6c6c"/><circle cx="1143" cy="862.4" r="5.6" fill="#bcbcbc"/><circle cx="1111.7" cy="944.7" r="5.6" fill="#6c6c6c"/><circle cx="1068.9" cy="975.9" r="5.6" fill="#6c6c6c"/><circle cx="1155.7" cy="952.8" r="5.6" fill="#6c6c6c"/><circle cx="1188.2" cy="926.1" r="5.6" fill="#bcbcbc"/><circle cx="1156.9" cy="992.2" r="5.6" fill="#6c6c6c"/><circle cx="1188.2" cy="999.1" r="5.6" fill="#bcbcbc"/><circle cx="1117.5" cy="1023.4" r="5.6" fill="#6c6c6c"/><circle cx="1119.8" cy="1053.5" r="5.6" fill="#bcbcbc"/><circle cx="1073.5" cy="1015.3" r="5.6" fill="#6c6c6c"/><circle cx="1046.9" cy="1042" r="5.6" fill="#bcbcbc"/></g>
<g stroke-width="7.8" stroke-linecap="butt"><line x1="811.1" y1="1037.8" x2="847" y2="1004.2" stroke="#9a9a9a" stroke-opacity="0.1"/><line x1="903" y1="1015.1" x2="910" y2="1052.2" stroke="#9a9a9a" stroke-opacity="0.2"/><line x1="908.4" y1="1051.6" x2="873.8" y2="1080.5" stroke="#9a9a9a" stroke-opacity="0.1"/><line x1="822" y1="1075.3" x2="812.8" y2="1038.3" stroke="#9a9a9a" stroke-opacity="0.1"/><line x1="790" y1="1032.3" x2="768" y2="1027" stroke="#e0e0e0" stroke-opacity="0.3"/><line x1="848.7" y1="1004.7" x2="844.6" y2="986.7" stroke="#9a9a9a" stroke-opacity="0.1"/><line x1="844.6" y1="986.7" x2="840.6" y2="968.8" stroke="#e0e0e0" stroke-opacity="0.4"/><line x1="927.7" y1="1054.9" x2="946.2" y2="1058.3" stroke="#e0e0e0" stroke-opacity="0.3"/><line x1="875.4" y1="1081.1" x2="878.8" y2="1095.6" stroke="#9a9a9a" stroke-opacity="0.1"/><line x1="878.8" y1="1095.6" x2="882.3" y2="1110.1" stroke="#e0e0e0" stroke-opacity="0.4"/><line x1="820.4" y1="1074.7" x2="798.4" y2="1092.7" stroke="#9a9a9a" stroke-opacity="0.1"/><line x1="798.4" y1="1092.7" x2="776.4" y2="1110.6" stroke="#30dc30" stroke-opacity="0.1"/><line x1="901.3" y1="1014.6" x2="920.5" y2="997.2" stroke="#9a9a9a" stroke-opacity="0.1"/><line x1="920.5" y1="997.2" x2="939.7" y2="979.9" stroke="#9095e8" stroke-opacity="0.1"/><line x1="982.6" y1="1000.7" x2="1002.2" y2="983.3" stroke="#9a9a9a" stroke-opacity="0.1"/><line x1="1002.2" y1="983.3" x2="1021.9" y2="966" stroke="#9095e8" stroke-opacity="0.1"/><line x1="984.2" y1="1001.3" x2="989.1" y2="1033.7" stroke="#9a9a9a" stroke-opacity="0.2"/><line x1="989.1" y1="1033.7" x2="994" y2="1066.2" stroke="#f6cc44" stroke-opacity="0.2"/><line x1="1031.9" y1="1075.4" x2="1050.1" y2="1061.2" stroke="#9a9a9a" stroke-opacity="0.1"/><line x1="1050.1" y1="1061.2" x2="1068.3" y2="1046.9" stroke="#e0e0e0" stroke-opacity="0.4"/><line x1="1033.5" y1="1076" x2="1038.3" y2="1097.7" stroke="#9a9a9a" stroke-opacity="0.1"/><line x1="1038.3" y1="1097.7" x2="1043.2" y2="1119.4" stroke="#e0e0e0" stroke-opacity="0.4"/><line x1="1020.7" y1="1068.3" x2="1008.5" y2="1061.3" stroke="#e0e0e0" stroke-opacity="0.3"/><line x1="1023.5" y1="966.5" x2="1019.2" y2="941.9" stroke="#9095e8" stroke-opacity="0.2"/><line x1="1019.2" y1="941.9" x2="1015" y2="917.3" stroke="#9a9a9a" stroke-opacity="0.2"/><line x1="997.7" y1="905.1" x2="980.9" y2="893.5" stroke="#e0e0e0" stroke-opacity="0.3"/><line x1="1004.5" y1="922.2" x2="995.5" y2="927.7" stroke="#e0e0e0" stroke-opacity="0.3"/><line x1="1013.4" y1="916.7" x2="1060.2" y2="879" stroke="#9a9a9a" stroke-opacity="0.1"/><line x1="1061.8" y1="879.7" x2="1060.6" y2="857.7" stroke="#9a9a9a" stroke-opacity="0.2"/><line x1="1060.6" y1="857.7" x2="1059.4" y2="835.7" stroke="#e0e0e0" stroke-opacity="0.4"/><line x1="1106.4" y1="890.6" x2="1124.4" y2="876.1" stroke="#9a9a9a" stroke-opacity="0.1"/><line x1="1124.4" y1="876.1" x2="1142.4" y2="861.6" stroke="#e0e0e0" stroke-opacity="0.4"/><line x1="1108" y1="891.3" x2="1112.7" y2="944.6" stroke="#9a9a9a" stroke-opacity="0.2"/><line x1="1155.1" y1="952" x2="1171.3" y2="938.7" stroke="#9a9a9a" stroke-opacity="0.1"/><line x1="1171.3" y1="938.7" x2="1187.6" y2="925.3" stroke="#e0e0e0" stroke-opacity="0.4"/><line x1="1156.7" y1="952.8" x2="1157.9" y2="992.2" stroke="#9a9a9a" stroke-opacity="0.2"/><line x1="1172.8" y1="994.7" x2="1188.4" y2="998.1" stroke="#e0e0e0" stroke-opacity="0.3"/><line x1="1156.3" y1="991.4" x2="1116.9" y2="1022.6" stroke="#9a9a9a" stroke-opacity="0.1"/><line x1="1118.5" y1="1023.3" x2="1119.6" y2="1038.4" stroke="#9a9a9a" stroke-opacity="0.2"/><line x1="1119.6" y1="1038.4" x2="1120.8" y2="1053.4" stroke="#e0e0e0" stroke-opacity="0.4"/><line x1="1072.8" y1="1014.6" x2="1059.5" y2="1028" stroke="#9a9a9a" stroke-opacity="0.1"/><line x1="1059.5" y1="1028" x2="1046.2" y2="1041.3" stroke="#e0e0e0" stroke-opacity="0.4"/><line x1="1074.5" y1="1015.2" x2="1069.9" y2="975.8" stroke="#9a9a9a" stroke-opacity="0.2"/></g>
<g stroke-width="4.2" stroke-linecap="butt"><line x1="811.1" y1="1037.8" x2="847" y2="1004.2" stroke="#f4f4f4" stroke-opacity="0.1"/><line x1="903" y1="1015.1" x2="910" y2="1052.2" stroke="#f4f4f4" stroke-opacity="0.1"/><line x1="822" y1="1075.3" x2="812.8" y2="1038.3" stroke="#f4f4f4" stroke-opacity="0.1"/><line x1="790" y1="1032.3" x2="768" y2="1027" stroke="#ffffff" stroke-opacity="0.2"/><line x1="848.7" y1="1004.7" x2="844.6" y2="986.7" stroke="#f4f4f4" stroke-opacity="0.1"/><line x1="844.6" y1="986.7" x2="840.6" y2="968.8" stroke="#ffffff" stroke-opacity="0.3"/><line x1="927.7" y1="1054.9" x2="946.2" y2="1058.3" stroke="#ffffff" stroke-opacity="0.2"/><line x1="875.4" y1="1081.1" x2="878.8" y2="1095.6" stroke="#f4f4f4" stroke-opacity="0.1"/><line x1="878.8" y1="1095.6" x2="882.3" y2="1110.1" stroke="#ffffff" stroke-opacity="0.3"/><line x1="984.2" y1="1001.3" x2="989.1" y2="1033.7" stroke="#f4f4f4" stroke-opacity="0.1"/><line x1="989.1" y1="1033.7" x2="994" y2="1066.2" stroke="#fff4c0" stroke-opacity="0.1"/><line x1="1050.1" y1="1061.2" x2="1068.3" y2="1046.9" stroke="#ffffff" stroke-opacity="0.3"/><line x1="1033.5" y1="1076" x2="1038.3" y2="1097.7" stroke="#f4f4f4" stroke-opacity="0.1"/><line x1="1038.3" y1="1097.7" x2="1043.2" y2="1119.4" stroke="#ffffff" stroke-opacity="0.3"/><line x1="1020.7" y1="1068.3" x2="1008.5" y2="1061.3" stroke="#ffffff" stroke-opacity="0.2"/><line x1="1023.5" y1="966.5" x2="1019.2" y2="941.9" stroke="#e4e6ff" stroke-opacity="0.1"/><line x1="1019.2" y1="941.9" x2="1015" y2="917.3" stroke="#f4f4f4" stroke-opacity="0.1"/><line x1="997.7" y1="905.1" x2="980.9" y2="893.5" stroke="#ffffff" stroke-opacity="0.2"/><line x1="1004.5" y1="922.2" x2="995.5" y2="927.7" stroke="#ffffff" stroke-opacity="0.3"/><line x1="1061.8" y1="879.7" x2="1060.6" y2="857.7" stroke="#f4f4f4" stroke-opacity="0.1"/><line x1="1060.6" y1="857.7" x2="1059.4" y2="835.7" stroke="#ffffff" stroke-opacity="0.3"/><line x1="1124.4" y1="876.1" x2="1142.4" y2="861.6" stroke="#ffffff" stroke-opacity="0.3"/><line x1="1108" y1="891.3" x2="1112.7" y2="944.6" stroke="#f4f4f4" stroke-opacity="0.1"/><line x1="1171.3" y1="938.7" x2="1187.6" y2="925.3" stroke="#ffffff" stroke-opacity="0.3"/><line x1="1156.7" y1="952.8" x2="1157.9" y2="992.2" stroke="#f4f4f4" stroke-opacity="0.1"/><line x1="1172.8" y1="994.7" x2="1188.4" y2="998.1" stroke="#ffffff" stroke-opacity="0.2"/><line x1="1118.5" y1="1023.3" x2="1119.6" y2="1038.4" stroke="#f4f4f4" stroke-opacity="0.1"/><line x1="1119.6" y1="1038.4" x2="1120.8" y2="1053.4" stroke="#ffffff" stroke-opacity="0.3"/><line x1="1072.8" y1="1014.6" x2="1059.5" y2="1028" stroke="#f4f4f4" stroke-opacity="0.1"/><line x1="1059.5" y1="1028" x2="1046.2" y2="1041.3" stroke="#ffffff" stroke-opacity="0.3"/><line x1="1074.5" y1="1015.2" x2="1069.9" y2="975.8" stroke="#f4f4f4" stroke-opacity="0.1"/></g>
<g stroke-width="1.8" stroke-linecap="butt"><line x1="811.1" y1="1037.8" x2="847" y2="1004.2" stroke="#f4f4f4" stroke-opacity="0.1"/><line x1="903" y1="1015.1" x2="910" y2="1052.2" stroke="#f4f4f4" stroke-opacity="0.2"/><line x1="908.4" y1="1051.6" x2="873.8" y2="1080.5" stroke="#f4f4f4" stroke-opacity="0.1"/><line x1="822" y1="1075.3" x2="812.8" y2="1038.3" stroke="#f4f4f4" stroke-opacity="0.1"/><line x1="790" y1="1032.3" x2="768" y2="1027" stroke="#ffffff" stroke-opacity="0.3"/><line x1="848.7" y1="1004.7" x2="844.6" y2="986.7" stroke="#f4f4f4" stroke-opacity="0.1"/><line x1="844.6" y1="986.7" x2="840.6" y2="968.8" stroke="#ffffff" stroke-opacity="0.4"/><line x1="927.7" y1="1054.9" x2="946.2" y2="1058.3" stroke="#ffffff" stroke-opacity="0.3"/><line x1="875.4" y1="1081.1" x2="878.8" y2="1095.6" stroke="#f4f4f4" stroke-opacity="0.1"/><line x1="878.8" y1="1095.6" x2="882.3" y2="1110.1" stroke="#ffffff" stroke-opacity="0.4"/><line x1="820.4" y1="1074.7" x2="798.4" y2="1092.7" stroke="#f4f4f4" stroke-opacity="0.1"/><line x1="798.4" y1="1092.7" x2="776.4" y2="1110.6" stroke="#d0ffd0" stroke-opacity="0.1"/><line x1="901.3" y1="1014.6" x2="920.5" y2="997.2" stroke="#f4f4f4" stroke-opacity="0.1"/><line x1="920.5" y1="997.2" x2="939.7" y2="979.9" stroke="#e4e6ff" stroke-opacity="0.1"/><line x1="982.6" y1="1000.7" x2="1002.2" y2="983.3" stroke="#f4f4f4" stroke-opacity="0.1"/><line x1="1002.2" y1="983.3" x2="1021.9" y2="966" stroke="#e4e6ff" stroke-opacity="0.1"/><line x1="984.2" y1="1001.3" x2="989.1" y2="1033.7" stroke="#f4f4f4" stroke-opacity="0.2"/><line x1="989.1" y1="1033.7" x2="994" y2="1066.2" stroke="#fff4c0" stroke-opacity="0.2"/><line x1="1031.9" y1="1075.4" x2="1050.1" y2="1061.2" stroke="#f4f4f4" stroke-opacity="0.1"/><line x1="1050.1" y1="1061.2" x2="1068.3" y2="1046.9" stroke="#ffffff" stroke-opacity="0.4"/><line x1="1033.5" y1="1076" x2="1038.3" y2="1097.7" stroke="#f4f4f4" stroke-opacity="0.1"/><line x1="1038.3" y1="1097.7" x2="1043.2" y2="1119.4" stroke="#ffffff" stroke-opacity="0.4"/><line x1="1020.7" y1="1068.3" x2="1008.5" y2="1061.3" stroke="#ffffff" stroke-opacity="0.3"/><line x1="1023.5" y1="966.5" x2="1019.2" y2="941.9" stroke="#e4e6ff" stroke-opacity="0.2"/><line x1="1019.2" y1="941.9" x2="1015" y2="917.3" stroke="#f4f4f4" stroke-opacity="0.2"/><line x1="997.7" y1="905.1" x2="980.9" y2="893.5" stroke="#ffffff" stroke-opacity="0.3"/><line x1="1004.5" y1="922.2" x2="995.5" y2="927.7" stroke="#ffffff" stroke-opacity="0.3"/><line x1="1013.4" y1="916.7" x2="1060.2" y2="879" stroke="#f4f4f4" stroke-opacity="0.1"/><line x1="1061.8" y1="879.7" x2="1060.6" y2="857.7" stroke="#f4f4f4" stroke-opacity="0.2"/><line x1="1060.6" y1="857.7" x2="1059.4" y2="835.7" stroke="#ffffff" stroke-opacity="0.4"/><line x1="1106.4" y1="890.6" x2="1124.4" y2="876.1" stroke="#f4f4f4" stroke-opacity="0.1"/><line x1="1124.4" y1="876.1" x2="1142.4" y2="861.6" stroke="#ffffff" stroke-opacity="0.4"/><line x1="1108" y1="891.3" x2="1112.7" y2="944.6" stroke="#f4f4f4" stroke-opacity="0.2"/><line x1="1155.1" y1="952" x2="1171.3" y2="938.7" stroke="#f4f4f4" stroke-opacity="0.1"/><line x1="1171.3" y1="938.7" x2="1187.6" y2="925.3" stroke="#ffffff" stroke-opacity="0.4"/><line x1="1156.7" y1="952.8" x2="1157.9" y2="992.2" stroke="#f4f4f4" stroke-opacity="0.2"/><line x1="1172.8" y1="994.7" x2="1188.4" y2="998.1" stroke="#ffffff" stroke-opacity="0.3"/><line x1="1156.3" y1="991.4" x2="1116.9" y2="1022.6" stroke="#f4f4f4" stroke-opacity="0.1"/><line x1="1118.5" y1="1023.3" x2="1119.6" y2="1038.4" stroke="#f4f4f4" stroke-opacity="0.2"/><line x1="1119.6" y1="1038.4" x2="1120.8" y2="1053.4" stroke="#ffffff" stroke-opacity="0.4"/><line x1="1072.8" y1="1014.6" x2="1059.5" y2="1028" stroke="#f4f4f4" stroke-opacity="0.1"/><line x1="1059.5" y1="1028" x2="1046.2" y2="1041.3" stroke="#ffffff" stroke-opacity="0.4"/><line x1="1074.5" y1="1015.2" x2="1069.9" y2="975.8" stroke="#f4f4f4" stroke-opacity="0.2"/></g>
</g>
<line x1="811.8" y1="1040.8" x2="1152.3" y2="991" stroke="#f00" stroke-width="2.1" stroke-dasharray="7.6 3.6"/>
<g transform="translate(0 1323.5) scale(1 1) translate(0 -1323.5)">
<g stroke="#505050" stroke-width="1.45"><line x1="198.6" y1="1410.1" x2="207.2" y2="1359.6" stroke-dasharray="9.7 11.8" stroke-dashoffset="-10" stroke="#a4a4a4" stroke-width="3.5"/><line x1="207.2" y1="1359.6" x2="242.4" y2="1339.4" stroke-dasharray="7.7 9.3" stroke-dashoffset="-7.9" stroke="#a4a4a4" stroke-width="3.5"/><line x1="242.4" y1="1339.4" x2="255" y2="1358.3" stroke-dasharray="4.3 5.2" stroke-dashoffset="-4.4" stroke="#a4a4a4" stroke-width="3.5"/><line x1="255" y1="1358.3" x2="246.3" y2="1401.4" stroke-dasharray="8.4 10.1" stroke-dashoffset="-8.6" stroke="#a4a4a4" stroke-width="3.5"/><line x1="246.3" y1="1401.4" x2="212.3" y2="1423.1" stroke-dasharray="7.7 9.3" stroke-dashoffset="-7.9" stroke="#a4a4a4" stroke-width="3.5"/><line x1="212.3" y1="1423.1" x2="198.6" y2="1410.1" stroke-dasharray="3.6 4.4" stroke-dashoffset="-3.7" stroke="#a4a4a4" stroke-width="3.5"/><line x1="197.4" y1="1410.5" x2="206.1" y2="1358.8" stroke-dasharray="10 12" stroke-dashoffset="-10.2"/><line x1="206.1" y1="1358.8" x2="242.7" y2="1337.9" stroke-dasharray="8 9.7" stroke-dashoffset="-8.2"/><line x1="242.7" y1="1337.9" x2="256.2" y2="1358.1" stroke-dasharray="4.6 5.6" stroke-dashoffset="-4.7"/><line x1="256.2" y1="1358.1" x2="247.4" y2="1402.1" stroke-dasharray="8.5 10.3" stroke-dashoffset="-8.8"/><line x1="247.4" y1="1402.1" x2="212.2" y2="1424.6" stroke-dasharray="7.9 9.6" stroke-dashoffset="-8.1"/><line x1="212.2" y1="1424.6" x2="197.4" y2="1410.5" stroke-dasharray="3.9 4.7" stroke-dashoffset="-4"/><line x1="199.9" y1="1409.7" x2="208.2" y2="1360.3" stroke-dasharray="9.5 11.5" stroke-dashoffset="-9.8"/><line x1="208.2" y1="1360.3" x2="242" y2="1341" stroke-dasharray="7.4 9" stroke-dashoffset="-7.6"/><line x1="242" y1="1341" x2="253.8" y2="1358.6" stroke-dasharray="4 4.9" stroke-dashoffset="-4.1"/><line x1="253.8" y1="1358.6" x2="245.3" y2="1400.7" stroke-dasharray="8.2 9.9" stroke-dashoffset="-8.4"/><line x1="245.3" y1="1400.7" x2="212.5" y2="1421.6" stroke-dasharray="7.4 9" stroke-dashoffset="-7.6"/><line x1="212.5" y1="1421.6" x2="199.9" y2="1409.7" stroke-dasharray="3.3 4" stroke-dashoffset="-3.4"/><line x1="397.7" y1="1289.2" x2="393.8" y2="1279.5" stroke-dasharray="2 2.4" stroke-dashoffset="-2" stroke="#a4a4a4" stroke-width="3.5"/><line x1="393.8" y1="1279.5" x2="411.8" y2="1249.3" stroke-dasharray="6.7 8.1" stroke-dashoffset="-6.9" stroke="#a4a4a4" stroke-width="3.5"/><line x1="411.8" y1="1249.3" x2="442.2" y2="1240.5" stroke-dasharray="6 7.3" stroke-dashoffset="-6.2" stroke="#a4a4a4" stroke-width="3.5"/><line x1="442.2" y1="1240.5" x2="449.3" y2="1248" stroke-dasharray="2 2.4" stroke-dashoffset="-2" stroke="#a4a4a4" stroke-width="3.5"/><line x1="449.3" y1="1248" x2="431.3" y2="1283.2" stroke-dasharray="7.5 9.1" stroke-dashoffset="-7.7" stroke="#a4a4a4" stroke-width="3.5"/><line x1="431.3" y1="1283.2" x2="397.7" y2="1289.2" stroke-dasharray="6.5 7.8" stroke-dashoffset="-6.7" stroke="#a4a4a4" stroke-width="3.5"/><line x1="397" y1="1290.5" x2="392.5" y2="1279.4" stroke-dasharray="2.3 2.8" stroke-dashoffset="-2.3"/><line x1="392.5" y1="1279.4" x2="411" y2="1248.3" stroke-dasharray="6.9 8.3" stroke-dashoffset="-7.1"/><line x1="411" y1="1248.3" x2="442.6" y2="1239.2" stroke-dasharray="6.2 7.6" stroke-dashoffset="-6.4"/><line x1="442.6" y1="1239.2" x2="450.7" y2="1247.8" stroke-dasharray="2.2 2.7" stroke-dashoffset="-2.3"/><line x1="450.7" y1="1247.8" x2="432" y2="1284.2" stroke-dasharray="7.8 9.4" stroke-dashoffset="-8"/><line x1="432" y1="1284.2" x2="397" y2="1290.5" stroke-dasharray="6.8 8.2" stroke-dashoffset="-6.9"/><line x1="398.4" y1="1287.9" x2="395.1" y2="1279.6" stroke-dasharray="1.7 2.1" stroke-dashoffset="-1.8"/><line x1="395.1" y1="1279.6" x2="412.5" y2="1250.3" stroke-dasharray="6.5 7.8" stroke-dashoffset="-6.7"/><line x1="412.5" y1="1250.3" x2="441.9" y2="1241.8" stroke-dasharray="5.8 7" stroke-dashoffset="-6"/><line x1="441.9" y1="1241.8" x2="447.9" y2="1248.2" stroke-dasharray="1.7 2" stroke-dashoffset="-1.7"/><line x1="447.9" y1="1248.2" x2="430.5" y2="1282.2" stroke-dasharray="7.3 8.8" stroke-dashoffset="-7.4"/><line x1="430.5" y1="1282.2" x2="398.4" y2="1287.9" stroke-dasharray="6.2 7.5" stroke-dashoffset="-6.4"/><line x1="471.1" y1="1255.9" x2="504.5" y2="1247.3" stroke-dasharray="6.6 7.9" stroke-dashoffset="-6.7" stroke="#a4a4a4" stroke-width="3.5"/><line x1="504.5" y1="1247.3" x2="517.8" y2="1262" stroke-dasharray="3.8 4.6" stroke-dashoffset="-3.9" stroke="#a4a4a4" stroke-width="3.5"/><line x1="517.8" y1="1262" x2="500.4" y2="1298.7" stroke-dasharray="7.7 9.4" stroke-dashoffset="-7.9" stroke="#a4a4a4" stroke-width="3.5"/><line x1="500.4" y1="1298.7" x2="461.6" y2="1308.2" stroke-dasharray="7.6 9.2" stroke-dashoffset="-7.8" stroke="#a4a4a4" stroke-width="3.5"/><line x1="461.6" y1="1308.2" x2="452.1" y2="1292.9" stroke-dasharray="3.4 4.1" stroke-dashoffset="-3.5" stroke="#a4a4a4" stroke-width="3.5"/><line x1="452.1" y1="1292.9" x2="471.1" y2="1255.9" stroke-dasharray="7.9 9.6" stroke-dashoffset="-8.1" stroke="#a4a4a4" stroke-width="3.5"/><line x1="470.3" y1="1254.9" x2="504.9" y2="1246" stroke-dasharray="6.8 8.2" stroke-dashoffset="-7"/><line x1="504.9" y1="1246" x2="519.2" y2="1261.8" stroke-dasharray="4 4.9" stroke-dashoffset="-4.2"/><line x1="519.2" y1="1261.8" x2="501.2" y2="1299.7" stroke-dasharray="8 9.7" stroke-dashoffset="-8.2"/><line x1="501.2" y1="1299.7" x2="461" y2="1309.5" stroke-dasharray="7.8 9.5" stroke-dashoffset="-8.1"/><line x1="461" y1="1309.5" x2="450.8" y2="1293" stroke-dasharray="3.7 4.5" stroke-dashoffset="-3.8"/><line x1="450.8" y1="1293" x2="470.3" y2="1254.9" stroke-dasharray="8.1 9.9" stroke-dashoffset="-8.4"/><line x1="471.9" y1="1256.8" x2="504.1" y2="1248.6" stroke-dasharray="6.3 7.7" stroke-dashoffset="-6.5"/><line x1="504.1" y1="1248.6" x2="516.4" y2="1262.2" stroke-dasharray="3.5 4.2" stroke-dashoffset="-3.6"/><line x1="516.4" y1="1262.2" x2="499.6" y2="1297.7" stroke-dasharray="7.5 9" stroke-dashoffset="-7.7"/><line x1="499.6" y1="1297.7" x2="462.1" y2="1306.8" stroke-dasharray="7.3 8.9" stroke-dashoffset="-7.5"/><line x1="462.1" y1="1306.8" x2="453.4" y2="1292.9" stroke-dasharray="3.1 3.8" stroke-dashoffset="-3.2"/><line x1="453.4" y1="1292.9" x2="471.9" y2="1256.8" stroke-dasharray="7.7 9.3" stroke-dashoffset="-7.9"/></g>
<g stroke-width="15.4"><line x1="307.2" y1="1330.6" x2="307.4" y2="1339.5" stroke="#474747"/><line x1="186.8" y1="1414" x2="197.2" y2="1352.6" stroke="#474747"/><line x1="197.2" y1="1352.6" x2="245.8" y2="1324.8" stroke="#474747"/><line x1="245.8" y1="1324.8" x2="266.7" y2="1356" stroke="#474747"/><line x1="266.7" y1="1356" x2="256.2" y2="1408.2" stroke="#474747"/><line x1="256.2" y1="1408.2" x2="211" y2="1437" stroke="#474747"/><line x1="211" y1="1437" x2="186.8" y2="1414" stroke="#474747"/><line x1="186.8" y1="1414" x2="167.1" y2="1426.2" stroke="#474747"/><line x1="167.1" y1="1426.2" x2="147.4" y2="1438.3" stroke="#7e7e7e"/><line x1="197.2" y1="1352.6" x2="185.6" y2="1338.7" stroke="#474747"/><line x1="185.6" y1="1338.7" x2="174" y2="1324.8" stroke="#7e7e7e"/><line x1="245.8" y1="1324.8" x2="251" y2="1301.6" stroke="#474747"/><line x1="251" y1="1301.6" x2="256.2" y2="1278.4" stroke="#7e7e7e"/><line x1="256.2" y1="1408.2" x2="263.8" y2="1418.6" stroke="#474747"/><line x1="263.8" y1="1418.6" x2="271.3" y2="1429" stroke="#7e7e7e"/><line x1="211" y1="1437" x2="208.2" y2="1459.5" stroke="#474747"/><line x1="208.2" y1="1459.5" x2="205.3" y2="1482" stroke="#7e7e7e"/><line x1="266.7" y1="1356" x2="307.2" y2="1330.6" stroke="#474747"/><line x1="307.2" y1="1330.6" x2="307.2" y2="1306.8" stroke="#474747"/><line x1="307.2" y1="1306.8" x2="307.2" y2="1283" stroke="#7e7e7e"/><line x1="307.2" y1="1330.6" x2="334.1" y2="1342.5" stroke="#474747"/><line x1="334.1" y1="1342.5" x2="361" y2="1354.5" stroke="#a07a10"/><line x1="361" y1="1354.5" x2="375.8" y2="1328.3" stroke="#a07a10"/><line x1="375.8" y1="1328.3" x2="390.5" y2="1302.2" stroke="#474747"/><line x1="390.5" y1="1302.2" x2="381" y2="1278.5" stroke="#474747"/><line x1="381" y1="1278.5" x2="366.9" y2="1282" stroke="#474747"/><line x1="366.9" y1="1282" x2="352.7" y2="1285.4" stroke="#7e7e7e"/><line x1="381" y1="1278.5" x2="392.6" y2="1259" stroke="#474747"/><line x1="392.6" y1="1259" x2="404.2" y2="1239.5" stroke="#4d5296"/><line x1="404.2" y1="1239.5" x2="445.8" y2="1227.5" stroke="#4d5296"/><line x1="445.8" y1="1227.5" x2="454.5" y2="1236.8" stroke="#4d5296"/><line x1="454.5" y1="1236.8" x2="463.2" y2="1246" stroke="#474747"/><line x1="463.2" y1="1246" x2="438.9" y2="1293.5" stroke="#474747"/><line x1="438.9" y1="1293.5" x2="390.5" y2="1302.2" stroke="#474747"/><line x1="463.2" y1="1246" x2="508.4" y2="1234.4" stroke="#474747"/><line x1="508.4" y1="1234.4" x2="518.2" y2="1219.3" stroke="#474747"/><line x1="518.2" y1="1219.3" x2="528" y2="1204.3" stroke="#7e7e7e"/><line x1="508.4" y1="1234.4" x2="531.5" y2="1260" stroke="#474747"/><line x1="531.5" y1="1260" x2="553" y2="1254.8" stroke="#474747"/><line x1="553" y1="1254.8" x2="574.4" y2="1249.5" stroke="#7e7e7e"/><line x1="531.5" y1="1260" x2="508.4" y2="1308.6" stroke="#474747"/><line x1="508.4" y1="1308.6" x2="521.7" y2="1325.3" stroke="#474747"/><line x1="521.7" y1="1325.3" x2="535" y2="1342" stroke="#5c9c9c"/><line x1="508.4" y1="1308.6" x2="456.2" y2="1321.3" stroke="#474747"/><line x1="456.2" y1="1321.3" x2="447.5" y2="1341" stroke="#474747"/><line x1="447.5" y1="1341" x2="438.9" y2="1360.7" stroke="#7e7e7e"/><line x1="456.2" y1="1321.3" x2="438.9" y2="1293.5" stroke="#474747"/><circle cx="186.8" cy="1414" r="7.7" fill="#474747"/><circle cx="197.2" cy="1352.6" r="7.7" fill="#474747"/><circle cx="245.8" cy="1324.8" r="7.7" fill="#474747"/><circle cx="266.7" cy="1356" r="7.7" fill="#474747"/><circle cx="256.2" cy="1408.2" r="7.7" fill="#474747"/><circle cx="211" cy="1437" r="7.7" fill="#474747"/><circle cx="147.4" cy="1438.3" r="7.7" fill="#7e7e7e"/><circle cx="174" cy="1324.8" r="7.7" fill="#7e7e7e"/><circle cx="256.2" cy="1278.4" r="7.7" fill="#7e7e7e"/><circle cx="271.3" cy="1429" r="7.7" fill="#7e7e7e"/><circle cx="205.3" cy="1482" r="7.7" fill="#7e7e7e"/><circle cx="307.2" cy="1330.6" r="7.7" fill="#474747"/><circle cx="307.2" cy="1283" r="7.7" fill="#7e7e7e"/><circle cx="307.4" cy="1339.5" r="7.7" fill="#474747"/><circle cx="361" cy="1354.5" r="7.7" fill="#a07a10"/><circle cx="390.5" cy="1302.2" r="7.7" fill="#474747"/><circle cx="381" cy="1278.5" r="7.7" fill="#474747"/><circle cx="352.7" cy="1285.4" r="7.7" fill="#7e7e7e"/><circle cx="404.2" cy="1239.5" r="7.7" fill="#4d5296"/><circle cx="445.8" cy="1227.5" r="7.7" fill="#4d5296"/><circle cx="463.2" cy="1246" r="7.7" fill="#474747"/><circle cx="438.9" cy="1293.5" r="7.7" fill="#474747"/><circle cx="508.4" cy="1234.4" r="7.7" fill="#474747"/><circle cx="528" cy="1204.3" r="7.7" fill="#7e7e7e"/><circle cx="531.5" cy="1260" r="7.7" fill="#474747"/><circle cx="574.4" cy="1249.5" r="7.7" fill="#7e7e7e"/><circle cx="508.4" cy="1308.6" r="7.7" fill="#474747"/><circle cx="535" cy="1342" r="7.7" fill="#5c9c9c"/><circle cx="456.2" cy="1321.3" r="7.7" fill="#474747"/><circle cx="438.9" cy="1360.7" r="7.7" fill="#7e7e7e"/></g>
<g stroke-width="12.3"><line x1="307.2" y1="1330.6" x2="307.4" y2="1339.5" stroke="#6c6c6c"/><line x1="186.8" y1="1414" x2="197.2" y2="1352.6" stroke="#6c6c6c"/><line x1="197.2" y1="1352.6" x2="245.8" y2="1324.8" stroke="#6c6c6c"/><line x1="245.8" y1="1324.8" x2="266.7" y2="1356" stroke="#6c6c6c"/><line x1="266.7" y1="1356" x2="256.2" y2="1408.2" stroke="#6c6c6c"/><line x1="256.2" y1="1408.2" x2="211" y2="1437" stroke="#6c6c6c"/><line x1="211" y1="1437" x2="186.8" y2="1414" stroke="#6c6c6c"/><line x1="186.8" y1="1414" x2="167.1" y2="1426.2" stroke="#6c6c6c"/><line x1="167.1" y1="1426.2" x2="147.4" y2="1438.3" stroke="#bcbcbc"/><line x1="197.2" y1="1352.6" x2="185.6" y2="1338.7" stroke="#6c6c6c"/><line x1="185.6" y1="1338.7" x2="174" y2="1324.8" stroke="#bcbcbc"/><line x1="245.8" y1="1324.8" x2="251" y2="1301.6" stroke="#6c6c6c"/><line x1="251" y1="1301.6" x2="256.2" y2="1278.4" stroke="#bcbcbc"/><line x1="256.2" y1="1408.2" x2="263.8" y2="1418.6" stroke="#6c6c6c"/><line x1="263.8" y1="1418.6" x2="271.3" y2="1429" stroke="#bcbcbc"/><line x1="211" y1="1437" x2="208.2" y2="1459.5" stroke="#6c6c6c"/><line x1="208.2" y1="1459.5" x2="205.3" y2="1482" stroke="#bcbcbc"/><line x1="266.7" y1="1356" x2="307.2" y2="1330.6" stroke="#6c6c6c"/><line x1="307.2" y1="1330.6" x2="307.2" y2="1306.8" stroke="#6c6c6c"/><line x1="307.2" y1="1306.8" x2="307.2" y2="1283" stroke="#bcbcbc"/><line x1="307.2" y1="1330.6" x2="334.1" y2="1342.5" stroke="#6c6c6c"/><line x1="334.1" y1="1342.5" x2="361" y2="1354.5" stroke="#e4b224"/><line x1="361" y1="1354.5" x2="375.8" y2="1328.3" stroke="#e4b224"/><line x1="375.8" y1="1328.3" x2="390.5" y2="1302.2" stroke="#6c6c6c"/><line x1="390.5" y1="1302.2" x2="381" y2="1278.5" stroke="#6c6c6c"/><line x1="381" y1="1278.5" x2="366.9" y2="1282" stroke="#6c6c6c"/><line x1="366.9" y1="1282" x2="352.7" y2="1285.4" stroke="#bcbcbc"/><line x1="381" y1="1278.5" x2="392.6" y2="1259" stroke="#6c6c6c"/><line x1="392.6" y1="1259" x2="404.2" y2="1239.5" stroke="#7378c8"/><line x1="404.2" y1="1239.5" x2="445.8" y2="1227.5" stroke="#7378c8"/><line x1="445.8" y1="1227.5" x2="454.5" y2="1236.8" stroke="#7378c8"/><line x1="454.5" y1="1236.8" x2="463.2" y2="1246" stroke="#6c6c6c"/><line x1="463.2" y1="1246" x2="438.9" y2="1293.5" stroke="#6c6c6c"/><line x1="438.9" y1="1293.5" x2="390.5" y2="1302.2" stroke="#6c6c6c"/><line x1="463.2" y1="1246" x2="508.4" y2="1234.4" stroke="#6c6c6c"/><line x1="508.4" y1="1234.4" x2="518.2" y2="1219.3" stroke="#6c6c6c"/><line x1="518.2" y1="1219.3" x2="528" y2="1204.3" stroke="#bcbcbc"/><line x1="508.4" y1="1234.4" x2="531.5" y2="1260" stroke="#6c6c6c"/><line x1="531.5" y1="1260" x2="553" y2="1254.8" stroke="#6c6c6c"/><line x1="553" y1="1254.8" x2="574.4" y2="1249.5" stroke="#bcbcbc"/><line x1="531.5" y1="1260" x2="508.4" y2="1308.6" stroke="#6c6c6c"/><line x1="508.4" y1="1308.6" x2="521.7" y2="1325.3" stroke="#6c6c6c"/><line x1="521.7" y1="1325.3" x2="535" y2="1342" stroke="#8ccfcf"/><line x1="508.4" y1="1308.6" x2="456.2" y2="1321.3" stroke="#6c6c6c"/><line x1="456.2" y1="1321.3" x2="447.5" y2="1341" stroke="#6c6c6c"/><line x1="447.5" y1="1341" x2="438.9" y2="1360.7" stroke="#bcbcbc"/><line x1="456.2" y1="1321.3" x2="438.9" y2="1293.5" stroke="#6c6c6c"/><circle cx="186.8" cy="1414" r="6.2" fill="#6c6c6c"/><circle cx="197.2" cy="1352.6" r="6.2" fill="#6c6c6c"/><circle cx="245.8" cy="1324.8" r="6.2" fill="#6c6c6c"/><circle cx="266.7" cy="1356" r="6.2" fill="#6c6c6c"/><circle cx="256.2" cy="1408.2" r="6.2" fill="#6c6c6c"/><circle cx="211" cy="1437" r="6.2" fill="#6c6c6c"/><circle cx="147.4" cy="1438.3" r="6.2" fill="#bcbcbc"/><circle cx="174" cy="1324.8" r="6.2" fill="#bcbcbc"/><circle cx="256.2" cy="1278.4" r="6.2" fill="#bcbcbc"/><circle cx="271.3" cy="1429" r="6.2" fill="#bcbcbc"/><circle cx="205.3" cy="1482" r="6.2" fill="#bcbcbc"/><circle cx="307.2" cy="1330.6" r="6.2" fill="#6c6c6c"/><circle cx="307.2" cy="1283" r="6.2" fill="#bcbcbc"/><circle cx="307.4" cy="1339.5" r="6.2" fill="#6c6c6c"/><circle cx="361" cy="1354.5" r="6.2" fill="#e4b224"/><circle cx="390.5" cy="1302.2" r="6.2" fill="#6c6c6c"/><circle cx="381" cy="1278.5" r="6.2" fill="#6c6c6c"/><circle cx="352.7" cy="1285.4" r="6.2" fill="#bcbcbc"/><circle cx="404.2" cy="1239.5" r="6.2" fill="#7378c8"/><circle cx="445.8" cy="1227.5" r="6.2" fill="#7378c8"/><circle cx="463.2" cy="1246" r="6.2" fill="#6c6c6c"/><circle cx="438.9" cy="1293.5" r="6.2" fill="#6c6c6c"/><circle cx="508.4" cy="1234.4" r="6.2" fill="#6c6c6c"/><circle cx="528" cy="1204.3" r="6.2" fill="#bcbcbc"/><circle cx="531.5" cy="1260" r="6.2" fill="#6c6c6c"/><circle cx="574.4" cy="1249.5" r="6.2" fill="#bcbcbc"/><circle cx="508.4" cy="1308.6" r="6.2" fill="#6c6c6c"/><circle cx="535" cy="1342" r="6.2" fill="#8ccfcf"/><circle cx="456.2" cy="1321.3" r="6.2" fill="#6c6c6c"/><circle cx="438.9" cy="1360.7" r="6.2" fill="#bcbcbc"/></g>
<g stroke="#000" stroke-width="12.6"><line x1="197.2" y1="1352.6" x2="245.8" y2="1324.8" stroke-opacity="0.2"/><line x1="256.2" y1="1408.2" x2="211" y2="1437" stroke-opacity="0.2"/><line x1="211" y1="1437" x2="186.8" y2="1414" stroke-opacity="0"/><line x1="186.8" y1="1414" x2="167.1" y2="1426.2" stroke-opacity="0.2"/><line x1="266.7" y1="1356" x2="307.2" y2="1330.6" stroke-opacity="0.2"/><line x1="307.2" y1="1330.6" x2="334.1" y2="1342.5" stroke-opacity="0.1"/><line x1="334.1" y1="1342.5" x2="361" y2="1354.5" stroke-opacity="0.1"/><line x1="361" y1="1354.5" x2="375.8" y2="1328.3" stroke-opacity="0.1"/><line x1="375.8" y1="1328.3" x2="390.5" y2="1302.2" stroke-opacity="0.1"/><line x1="381" y1="1278.5" x2="366.9" y2="1282" stroke-opacity="0.2"/><line x1="381" y1="1278.5" x2="392.6" y2="1259" stroke-opacity="0.1"/><line x1="392.6" y1="1259" x2="404.2" y2="1239.5" stroke-opacity="0.1"/><line x1="404.2" y1="1239.5" x2="445.8" y2="1227.5" stroke-opacity="0.2"/><line x1="463.2" y1="1246" x2="438.9" y2="1293.5" stroke-opacity="0.1"/><line x1="438.9" y1="1293.5" x2="390.5" y2="1302.2" stroke-opacity="0.2"/><line x1="463.2" y1="1246" x2="508.4" y2="1234.4" stroke-opacity="0.2"/><line x1="508.4" y1="1234.4" x2="518.2" y2="1219.3" stroke-opacity="0.1"/><line x1="531.5" y1="1260" x2="553" y2="1254.8" stroke-opacity="0.2"/><line x1="531.5" y1="1260" x2="508.4" y2="1308.6" stroke-opacity="0.1"/><line x1="508.4" y1="1308.6" x2="456.2" y2="1321.3" stroke-opacity="0.2"/><line x1="456.2" y1="1321.3" x2="447.5" y2="1341" stroke-opacity="0.1"/></g>
<g stroke-width="8.6" stroke-linecap="butt"><line x1="308.3" y1="1330.6" x2="308.5" y2="1339.5" stroke="#9a9a9a" stroke-opacity="0.3"/><line x1="185.7" y1="1413.8" x2="196.1" y2="1352.4" stroke="#9a9a9a" stroke-opacity="0.3"/><line x1="196.7" y1="1351.7" x2="245.3" y2="1323.9" stroke="#9a9a9a" stroke-opacity="0.2"/><line x1="265.6" y1="1355.8" x2="255.1" y2="1408" stroke="#9a9a9a" stroke-opacity="0.4"/><line x1="255.6" y1="1407.3" x2="210.4" y2="1436.1" stroke="#9a9a9a" stroke-opacity="0.3"/><line x1="186.2" y1="1413.1" x2="166.5" y2="1425.2" stroke="#9a9a9a" stroke-opacity="0.3"/><line x1="166.5" y1="1425.2" x2="146.8" y2="1437.4" stroke="#e0e0e0" stroke-opacity="0.5"/><line x1="186.4" y1="1338" x2="174.8" y2="1324.1" stroke="#e0e0e0" stroke-opacity="0.3"/><line x1="244.7" y1="1324.6" x2="249.9" y2="1301.4" stroke="#9a9a9a" stroke-opacity="0.4"/><line x1="249.9" y1="1301.4" x2="255.1" y2="1278.2" stroke="#e0e0e0" stroke-opacity="0.6"/><line x1="264.6" y1="1418" x2="272.2" y2="1428.4" stroke="#e0e0e0" stroke-opacity="0.3"/><line x1="209.9" y1="1436.9" x2="207.1" y2="1459.4" stroke="#9a9a9a" stroke-opacity="0.3"/><line x1="207.1" y1="1459.4" x2="204.2" y2="1481.9" stroke="#e0e0e0" stroke-opacity="0.5"/><line x1="266.1" y1="1355.1" x2="306.6" y2="1329.7" stroke="#9a9a9a" stroke-opacity="0.3"/><line x1="308.3" y1="1330.6" x2="308.3" y2="1306.8" stroke="#9a9a9a" stroke-opacity="0.3"/><line x1="308.3" y1="1306.8" x2="308.3" y2="1283" stroke="#e0e0e0" stroke-opacity="0.5"/><line x1="360.1" y1="1354" x2="374.8" y2="1327.8" stroke="#f6cc44" stroke-opacity="0.4"/><line x1="374.8" y1="1327.8" x2="389.6" y2="1301.7" stroke="#9a9a9a" stroke-opacity="0.4"/><line x1="391.5" y1="1301.8" x2="382" y2="1278.1" stroke="#9a9a9a" stroke-opacity="0.1"/><line x1="380.7" y1="1277.5" x2="366.6" y2="1280.9" stroke="#9a9a9a" stroke-opacity="0.1"/><line x1="366.6" y1="1280.9" x2="352.4" y2="1284.4" stroke="#e0e0e0" stroke-opacity="0.4"/><line x1="380.1" y1="1277.9" x2="391.7" y2="1258.4" stroke="#9a9a9a" stroke-opacity="0.4"/><line x1="391.7" y1="1258.4" x2="403.3" y2="1238.9" stroke="#9095e8" stroke-opacity="0.4"/><line x1="403.9" y1="1238.5" x2="445.5" y2="1226.5" stroke="#9095e8" stroke-opacity="0.1"/><line x1="462.2" y1="1245.5" x2="437.9" y2="1293" stroke="#9a9a9a" stroke-opacity="0.4"/><line x1="438.7" y1="1292.4" x2="390.3" y2="1301.1" stroke="#9a9a9a" stroke-opacity="0.1"/><line x1="462.9" y1="1245" x2="508.1" y2="1233.4" stroke="#9a9a9a" stroke-opacity="0.1"/><line x1="507.5" y1="1233.8" x2="517.3" y2="1218.8" stroke="#9a9a9a" stroke-opacity="0.4"/><line x1="517.3" y1="1218.8" x2="527.1" y2="1203.7" stroke="#e0e0e0" stroke-opacity="0.6"/><line x1="531.2" y1="1259" x2="552.7" y2="1253.7" stroke="#9a9a9a" stroke-opacity="0.1"/><line x1="552.7" y1="1253.7" x2="574.1" y2="1248.5" stroke="#e0e0e0" stroke-opacity="0.4"/><line x1="530.5" y1="1259.5" x2="507.4" y2="1308.1" stroke="#9a9a9a" stroke-opacity="0.4"/><line x1="508.1" y1="1307.6" x2="455.9" y2="1320.3" stroke="#9a9a9a" stroke-opacity="0.1"/><line x1="455.2" y1="1320.9" x2="446.6" y2="1340.6" stroke="#9a9a9a" stroke-opacity="0.4"/><line x1="446.6" y1="1340.6" x2="437.9" y2="1360.3" stroke="#e0e0e0" stroke-opacity="0.6"/></g>
<g stroke-width="4.6" stroke-linecap="butt"><line x1="308.3" y1="1330.6" x2="308.5" y2="1339.5" stroke="#f4f4f4" stroke-opacity="0.2"/><line x1="185.7" y1="1413.8" x2="196.1" y2="1352.4" stroke="#f4f4f4" stroke-opacity="0.3"/><line x1="196.7" y1="1351.7" x2="245.3" y2="1323.9" stroke="#f4f4f4" stroke-opacity="0.2"/><line x1="265.6" y1="1355.8" x2="255.1" y2="1408" stroke="#f4f4f4" stroke-opacity="0.3"/><line x1="255.6" y1="1407.3" x2="210.4" y2="1436.1" stroke="#f4f4f4" stroke-opacity="0.2"/><line x1="186.2" y1="1413.1" x2="166.5" y2="1425.2" stroke="#f4f4f4" stroke-opacity="0.2"/><line x1="166.5" y1="1425.2" x2="146.8" y2="1437.4" stroke="#ffffff" stroke-opacity="0.4"/><line x1="186.4" y1="1338" x2="174.8" y2="1324.1" stroke="#ffffff" stroke-opacity="0.3"/><line x1="244.7" y1="1324.6" x2="249.9" y2="1301.4" stroke="#f4f4f4" stroke-opacity="0.3"/><line x1="249.9" y1="1301.4" x2="255.1" y2="1278.2" stroke="#ffffff" stroke-opacity="0.4"/><line x1="264.6" y1="1418" x2="272.2" y2="1428.4" stroke="#ffffff" stroke-opacity="0.3"/><line x1="209.9" y1="1436.9" x2="207.1" y2="1459.4" stroke="#f4f4f4" stroke-opacity="0.3"/><line x1="207.1" y1="1459.4" x2="204.2" y2="1481.9" stroke="#ffffff" stroke-opacity="0.4"/><line x1="266.1" y1="1355.1" x2="306.6" y2="1329.7" stroke="#f4f4f4" stroke-opacity="0.2"/><line x1="308.3" y1="1330.6" x2="308.3" y2="1306.8" stroke="#f4f4f4" stroke-opacity="0.2"/><line x1="308.3" y1="1306.8" x2="308.3" y2="1283" stroke="#ffffff" stroke-opacity="0.4"/><line x1="360.1" y1="1354" x2="374.8" y2="1327.8" stroke="#fff4c0" stroke-opacity="0.3"/><line x1="374.8" y1="1327.8" x2="389.6" y2="1301.7" stroke="#f4f4f4" stroke-opacity="0.3"/><line x1="391.5" y1="1301.8" x2="382" y2="1278.1" stroke="#f4f4f4" stroke-opacity="0.1"/><line x1="380.7" y1="1277.5" x2="366.6" y2="1280.9" stroke="#f4f4f4" stroke-opacity="0.1"/><line x1="366.6" y1="1280.9" x2="352.4" y2="1284.4" stroke="#ffffff" stroke-opacity="0.3"/><line x1="380.1" y1="1277.9" x2="391.7" y2="1258.4" stroke="#f4f4f4" stroke-opacity="0.3"/><line x1="391.7" y1="1258.4" x2="403.3" y2="1238.9" stroke="#e4e6ff" stroke-opacity="0.3"/><line x1="403.9" y1="1238.5" x2="445.5" y2="1226.5" stroke="#e4e6ff" stroke-opacity="0.1"/><line x1="462.2" y1="1245.5" x2="437.9" y2="1293" stroke="#f4f4f4" stroke-opacity="0.3"/><line x1="438.7" y1="1292.4" x2="390.3" y2="1301.1" stroke="#f4f4f4" stroke-opacity="0.1"/><line x1="462.9" y1="1245" x2="508.1" y2="1233.4" stroke="#f4f4f4" stroke-opacity="0.1"/><line x1="507.5" y1="1233.8" x2="517.3" y2="1218.8" stroke="#f4f4f4" stroke-opacity="0.3"/><line x1="517.3" y1="1218.8" x2="527.1" y2="1203.7" stroke="#ffffff" stroke-opacity="0.4"/><line x1="531.2" y1="1259" x2="552.7" y2="1253.7" stroke="#f4f4f4" stroke-opacity="0.1"/><line x1="552.7" y1="1253.7" x2="574.1" y2="1248.5" stroke="#ffffff" stroke-opacity="0.3"/><line x1="530.5" y1="1259.5" x2="507.4" y2="1308.1" stroke="#f4f4f4" stroke-opacity="0.3"/><line x1="508.1" y1="1307.6" x2="455.9" y2="1320.3" stroke="#f4f4f4" stroke-opacity="0.1"/><line x1="455.2" y1="1320.9" x2="446.6" y2="1340.6" stroke="#f4f4f4" stroke-opacity="0.3"/><line x1="446.6" y1="1340.6" x2="437.9" y2="1360.3" stroke="#ffffff" stroke-opacity="0.4"/></g>
<g stroke-width="2" stroke-linecap="butt"><line x1="308.3" y1="1330.6" x2="308.5" y2="1339.5" stroke="#f4f4f4" stroke-opacity="0.3"/><line x1="185.7" y1="1413.8" x2="196.1" y2="1352.4" stroke="#f4f4f4" stroke-opacity="0.3"/><line x1="196.7" y1="1351.7" x2="245.3" y2="1323.9" stroke="#f4f4f4" stroke-opacity="0.2"/><line x1="265.6" y1="1355.8" x2="255.1" y2="1408" stroke="#f4f4f4" stroke-opacity="0.4"/><line x1="255.6" y1="1407.3" x2="210.4" y2="1436.1" stroke="#f4f4f4" stroke-opacity="0.3"/><line x1="186.2" y1="1413.1" x2="166.5" y2="1425.2" stroke="#f4f4f4" stroke-opacity="0.3"/><line x1="166.5" y1="1425.2" x2="146.8" y2="1437.4" stroke="#ffffff" stroke-opacity="0.5"/><line x1="186.4" y1="1338" x2="174.8" y2="1324.1" stroke="#ffffff" stroke-opacity="0.3"/><line x1="244.7" y1="1324.6" x2="249.9" y2="1301.4" stroke="#f4f4f4" stroke-opacity="0.4"/><line x1="249.9" y1="1301.4" x2="255.1" y2="1278.2" stroke="#ffffff" stroke-opacity="0.6"/><line x1="264.6" y1="1418" x2="272.2" y2="1428.4" stroke="#ffffff" stroke-opacity="0.3"/><line x1="209.9" y1="1436.9" x2="207.1" y2="1459.4" stroke="#f4f4f4" stroke-opacity="0.3"/><line x1="207.1" y1="1459.4" x2="204.2" y2="1481.9" stroke="#ffffff" stroke-opacity="0.5"/><line x1="266.1" y1="1355.1" x2="306.6" y2="1329.7" stroke="#f4f4f4" stroke-opacity="0.3"/><line x1="308.3" y1="1330.6" x2="308.3" y2="1306.8" stroke="#f4f4f4" stroke-opacity="0.3"/><line x1="308.3" y1="1306.8" x2="308.3" y2="1283" stroke="#ffffff" stroke-opacity="0.5"/><line x1="360.1" y1="1354" x2="374.8" y2="1327.8" stroke="#fff4c0" stroke-opacity="0.4"/><line x1="374.8" y1="1327.8" x2="389.6" y2="1301.7" stroke="#f4f4f4" stroke-opacity="0.4"/><line x1="391.5" y1="1301.8" x2="382" y2="1278.1" stroke="#f4f4f4" stroke-opacity="0.1"/><line x1="380.7" y1="1277.5" x2="366.6" y2="1280.9" stroke="#f4f4f4" stroke-opacity="0.1"/><line x1="366.6" y1="1280.9" x2="352.4" y2="1284.4" stroke="#ffffff" stroke-opacity="0.4"/><line x1="380.1" y1="1277.9" x2="391.7" y2="1258.4" stroke="#f4f4f4" stroke-opacity="0.4"/><line x1="391.7" y1="1258.4" x2="403.3" y2="1238.9" stroke="#e4e6ff" stroke-opacity="0.4"/><line x1="403.9" y1="1238.5" x2="445.5" y2="1226.5" stroke="#e4e6ff" stroke-opacity="0.1"/><line x1="462.2" y1="1245.5" x2="437.9" y2="1293" stroke="#f4f4f4" stroke-opacity="0.4"/><line x1="438.7" y1="1292.4" x2="390.3" y2="1301.1" stroke="#f4f4f4" stroke-opacity="0.1"/><line x1="462.9" y1="1245" x2="508.1" y2="1233.4" stroke="#f4f4f4" stroke-opacity="0.1"/><line x1="507.5" y1="1233.8" x2="517.3" y2="1218.8" stroke="#f4f4f4" stroke-opacity="0.4"/><line x1="517.3" y1="1218.8" x2="527.1" y2="1203.7" stroke="#ffffff" stroke-opacity="0.6"/><line x1="531.2" y1="1259" x2="552.7" y2="1253.7" stroke="#f4f4f4" stroke-opacity="0.1"/><line x1="552.7" y1="1253.7" x2="574.1" y2="1248.5" stroke="#ffffff" stroke-opacity="0.4"/><line x1="530.5" y1="1259.5" x2="507.4" y2="1308.1" stroke="#f4f4f4" stroke-opacity="0.4"/><line x1="508.1" y1="1307.6" x2="455.9" y2="1320.3" stroke="#f4f4f4" stroke-opacity="0.1"/><line x1="455.2" y1="1320.9" x2="446.6" y2="1340.6" stroke="#f4f4f4" stroke-opacity="0.4"/><line x1="446.6" y1="1340.6" x2="437.9" y2="1360.3" stroke="#ffffff" stroke-opacity="0.6"/></g>
</g>
<line x1="189" y1="1415" x2="526.9" y2="1261" stroke="#f00" stroke-width="2.1" stroke-dasharray="7.6 3.6"/>
<g transform="translate(0 1324.3) scale(1 1.3) translate(0 -1324.3)">
<g stroke="#505050" stroke-width="1.45"><line x1="829.8" y1="1359.5" x2="836.9" y2="1330.8" stroke-dasharray="5.6 6.8" stroke-dashoffset="-5.8" stroke="#a4a4a4" stroke-width="3.5"/><line x1="836.9" y1="1330.8" x2="880" y2="1322.3" stroke-dasharray="8.4 10.1" stroke-dashoffset="-8.6" stroke="#a4a4a4" stroke-width="3.5"/><line x1="880" y1="1322.3" x2="903.5" y2="1344.8" stroke-dasharray="6.2 7.5" stroke-dashoffset="-6.3" stroke="#a4a4a4" stroke-width="3.5"/><line x1="903.5" y1="1344.8" x2="895.6" y2="1373" stroke-dasharray="5.6 6.8" stroke-dashoffset="-5.7" stroke="#a4a4a4" stroke-width="3.5"/><line x1="895.6" y1="1373" x2="854.2" y2="1381.5" stroke-dasharray="8 9.7" stroke-dashoffset="-8.2" stroke="#a4a4a4" stroke-width="3.5"/><line x1="854.2" y1="1381.5" x2="829.8" y2="1359.5" stroke-dasharray="6.2 7.6" stroke-dashoffset="-6.4" stroke="#a4a4a4" stroke-width="3.5"/><line x1="828.5" y1="1359.9" x2="836" y2="1329.8" stroke-dasharray="5.9 7.1" stroke-dashoffset="-6"/><line x1="836" y1="1329.8" x2="880.4" y2="1321.1" stroke-dasharray="8.6 10.4" stroke-dashoffset="-8.8"/><line x1="880.4" y1="1321.1" x2="904.8" y2="1344.4" stroke-dasharray="6.4 7.8" stroke-dashoffset="-6.6"/><line x1="904.8" y1="1344.4" x2="896.5" y2="1374" stroke-dasharray="5.8 7.1" stroke-dashoffset="-6"/><line x1="896.5" y1="1374" x2="853.9" y2="1382.7" stroke-dasharray="8.3 10" stroke-dashoffset="-8.5"/><line x1="853.9" y1="1382.7" x2="828.5" y2="1359.9" stroke-dasharray="6.5 7.9" stroke-dashoffset="-6.7"/><line x1="831.1" y1="1359.1" x2="837.8" y2="1331.8" stroke-dasharray="5.3 6.5" stroke-dashoffset="-5.5"/><line x1="837.8" y1="1331.8" x2="879.7" y2="1323.6" stroke-dasharray="8.1 9.8" stroke-dashoffset="-8.3"/><line x1="879.7" y1="1323.6" x2="902.2" y2="1345.1" stroke-dasharray="5.9 7.2" stroke-dashoffset="-6.1"/><line x1="902.2" y1="1345.1" x2="894.7" y2="1372.1" stroke-dasharray="5.3 6.4" stroke-dashoffset="-5.5"/><line x1="894.7" y1="1372.1" x2="854.6" y2="1380.2" stroke-dasharray="7.8 9.4" stroke-dashoffset="-8"/><line x1="854.6" y1="1380.2" x2="831.1" y2="1359.1" stroke-dasharray="6 7.3" stroke-dashoffset="-6.2"/><line x1="985.9" y1="1326.6" x2="994.6" y2="1286" stroke-dasharray="7.9 9.5" stroke-dashoffset="-8.1" stroke="#a4a4a4" stroke-width="3.5"/><line x1="994.6" y1="1286" x2="1033.9" y2="1277.8" stroke-dasharray="7.6 9.2" stroke-dashoffset="-7.8" stroke="#a4a4a4" stroke-width="3.5"/><line x1="1033.9" y1="1277.8" x2="1057" y2="1303.2" stroke-dasharray="6.5 7.9" stroke-dashoffset="-6.7" stroke="#a4a4a4" stroke-width="3.5"/><line x1="1057" y1="1303.2" x2="1047.9" y2="1342.2" stroke-dasharray="7.6 9.2" stroke-dashoffset="-7.8" stroke="#a4a4a4" stroke-width="3.5"/><line x1="1047.9" y1="1342.2" x2="1009.9" y2="1348.8" stroke-dasharray="7.3 8.9" stroke-dashoffset="-7.5" stroke="#a4a4a4" stroke-width="3.5"/><line x1="1009.9" y1="1348.8" x2="985.9" y2="1326.6" stroke-dasharray="6.2 7.5" stroke-dashoffset="-6.4" stroke="#a4a4a4" stroke-width="3.5"/><line x1="984.6" y1="1326.9" x2="993.7" y2="1285" stroke-dasharray="8.2 9.9" stroke-dashoffset="-8.4"/><line x1="993.7" y1="1285" x2="1034.3" y2="1276.6" stroke-dasharray="7.9 9.5" stroke-dashoffset="-8.1"/><line x1="1034.3" y1="1276.6" x2="1058.2" y2="1302.9" stroke-dasharray="6.8 8.2" stroke-dashoffset="-6.9"/><line x1="1058.2" y1="1302.9" x2="1048.9" y2="1343.2" stroke-dasharray="7.9 9.5" stroke-dashoffset="-8.1"/><line x1="1048.9" y1="1343.2" x2="1009.5" y2="1350" stroke-dasharray="7.6 9.2" stroke-dashoffset="-7.8"/><line x1="1009.5" y1="1350" x2="984.6" y2="1326.9" stroke-dasharray="6.5 7.8" stroke-dashoffset="-6.6"/><line x1="987.1" y1="1326.2" x2="995.6" y2="1286.9" stroke-dasharray="7.6 9.2" stroke-dashoffset="-7.8"/><line x1="995.6" y1="1286.9" x2="1033.5" y2="1279.1" stroke-dasharray="7.3 8.9" stroke-dashoffset="-7.5"/><line x1="1033.5" y1="1279.1" x2="1055.7" y2="1303.5" stroke-dasharray="6.3 7.6" stroke-dashoffset="-6.4"/><line x1="1055.7" y1="1303.5" x2="1047" y2="1341.2" stroke-dasharray="7.3 8.9" stroke-dashoffset="-7.5"/><line x1="1047" y1="1341.2" x2="1010.2" y2="1347.6" stroke-dasharray="7.1 8.6" stroke-dashoffset="-7.3"/><line x1="1010.2" y1="1347.6" x2="987.1" y2="1326.2" stroke-dasharray="6 7.2" stroke-dashoffset="-6.1"/><line x1="1078.2" y1="1309.2" x2="1118.3" y2="1299.6" stroke-dasharray="7.8 9.5" stroke-dashoffset="-8" stroke="#a4a4a4" stroke-width="3.5"/><line x1="1118.3" y1="1299.6" x2="1148.6" y2="1326.2" stroke-dasharray="7.7 9.3" stroke-dashoffset="-7.9" stroke="#a4a4a4" stroke-width="3.5"/><line x1="1148.6" y1="1326.2" x2="1139.8" y2="1366.7" stroke-dasharray="7.9 9.5" stroke-dashoffset="-8.1" stroke="#a4a4a4" stroke-width="3.5"/><line x1="1139.8" y1="1366.7" x2="1099.1" y2="1375.1" stroke-dasharray="7.9 9.6" stroke-dashoffset="-8.1" stroke="#a4a4a4" stroke-width="3.5"/><line x1="1099.1" y1="1375.1" x2="1069.2" y2="1348" stroke-dasharray="7.7 9.3" stroke-dashoffset="-7.9" stroke="#a4a4a4" stroke-width="3.5"/><line x1="1069.2" y1="1348" x2="1078.2" y2="1309.2" stroke-dasharray="7.6 9.2" stroke-dashoffset="-7.8" stroke="#a4a4a4" stroke-width="3.5"/><line x1="1077.2" y1="1308.2" x2="1118.6" y2="1298.4" stroke-dasharray="8.1 9.8" stroke-dashoffset="-8.3"/><line x1="1118.6" y1="1298.4" x2="1149.8" y2="1325.8" stroke-dasharray="7.9 9.6" stroke-dashoffset="-8.1"/><line x1="1149.8" y1="1325.8" x2="1140.7" y2="1367.7" stroke-dasharray="8.1 9.9" stroke-dashoffset="-8.4"/><line x1="1140.7" y1="1367.7" x2="1098.7" y2="1376.4" stroke-dasharray="8.2 9.9" stroke-dashoffset="-8.4"/><line x1="1098.7" y1="1376.4" x2="1067.9" y2="1348.4" stroke-dasharray="7.9 9.6" stroke-dashoffset="-8.1"/><line x1="1067.9" y1="1348.4" x2="1077.2" y2="1308.2" stroke-dasharray="7.8 9.5" stroke-dashoffset="-8"/><line x1="1079.1" y1="1310.1" x2="1118" y2="1300.9" stroke-dasharray="7.6 9.2" stroke-dashoffset="-7.8"/><line x1="1118" y1="1300.9" x2="1147.3" y2="1326.6" stroke-dasharray="7.4 9" stroke-dashoffset="-7.6"/><line x1="1147.3" y1="1326.6" x2="1138.8" y2="1365.7" stroke-dasharray="7.6 9.2" stroke-dashoffset="-7.8"/><line x1="1138.8" y1="1365.7" x2="1099.4" y2="1373.9" stroke-dasharray="7.6 9.3" stroke-dashoffset="-7.8"/><line x1="1099.4" y1="1373.9" x2="1070.4" y2="1347.6" stroke-dasharray="7.4 9" stroke-dashoffset="-7.6"/><line x1="1070.4" y1="1347.6" x2="1079.1" y2="1310.1" stroke-dasharray="7.3 8.8" stroke-dashoffset="-7.5"/></g>
<g stroke-width="14.8"><line x1="817.5" y1="1363.3" x2="827.9" y2="1321.4" stroke="#474747"/><line x1="827.9" y1="1321.4" x2="883.5" y2="1310.4" stroke="#474747"/><line x1="883.5" y1="1310.4" x2="915.9" y2="1341.4" stroke="#474747"/><line x1="915.9" y1="1341.4" x2="904.4" y2="1382.5" stroke="#474747"/><line x1="904.4" y1="1382.5" x2="851" y2="1393.3" stroke="#474747"/><line x1="851" y1="1393.3" x2="817.5" y2="1363.3" stroke="#474747"/><line x1="817.5" y1="1363.3" x2="797.9" y2="1370.5" stroke="#474747"/><line x1="797.9" y1="1370.5" x2="778.2" y2="1377.8" stroke="#7e7e7e"/><line x1="827.9" y1="1321.4" x2="811.4" y2="1310.1" stroke="#474747"/><line x1="811.4" y1="1310.1" x2="794.8" y2="1298.9" stroke="#7e7e7e"/><line x1="883.5" y1="1310.4" x2="888" y2="1292.5" stroke="#474747"/><line x1="888" y1="1292.5" x2="892.4" y2="1274.5" stroke="#7e7e7e"/><line x1="904.4" y1="1382.5" x2="919.2" y2="1393.6" stroke="#474747"/><line x1="919.2" y1="1393.6" x2="933.9" y2="1404.7" stroke="#5c9c9c"/><line x1="851" y1="1393.3" x2="848.3" y2="1406.8" stroke="#474747"/><line x1="848.3" y1="1406.8" x2="845.6" y2="1420.2" stroke="#7e7e7e"/><line x1="915.9" y1="1341.4" x2="973.8" y2="1330.4" stroke="#474747"/><line x1="973.8" y1="1330.4" x2="990.1" y2="1345.5" stroke="#474747"/><line x1="990.1" y1="1345.5" x2="1006.4" y2="1360.6" stroke="#4d5296"/><line x1="1006.4" y1="1360.6" x2="1031.7" y2="1356.2" stroke="#4d5296"/><line x1="1031.7" y1="1356.2" x2="1057" y2="1351.8" stroke="#474747"/><line x1="973.8" y1="1330.4" x2="985.4" y2="1276.7" stroke="#474747"/><line x1="985.4" y1="1276.7" x2="955.3" y2="1241.1" stroke="#474747"/><line x1="955.3" y1="1241.1" x2="942.9" y2="1253.5" stroke="#474747"/><line x1="942.9" y1="1253.5" x2="930.5" y2="1265.9" stroke="#7e7e7e"/><line x1="955.3" y1="1241.1" x2="942.8" y2="1230.8" stroke="#474747"/><line x1="942.8" y1="1230.8" x2="930.4" y2="1220.6" stroke="#7e7e7e"/><line x1="955.3" y1="1241.1" x2="963.1" y2="1228.8" stroke="#474747"/><line x1="963.1" y1="1228.8" x2="970.8" y2="1216.6" stroke="#7e7e7e"/><line x1="985.4" y1="1276.7" x2="1037.8" y2="1265.8" stroke="#474747"/><line x1="1037.8" y1="1265.8" x2="1041.9" y2="1248.7" stroke="#474747"/><line x1="1041.9" y1="1248.7" x2="1046" y2="1231.6" stroke="#7e7e7e"/><line x1="1037.8" y1="1265.8" x2="1069" y2="1300" stroke="#474747"/><line x1="1069" y1="1300" x2="1057" y2="1351.8" stroke="#474747"/><line x1="1069" y1="1300" x2="1121.3" y2="1287.6" stroke="#474747"/><line x1="1121.3" y1="1287.6" x2="1126.3" y2="1270.1" stroke="#474747"/><line x1="1126.3" y1="1270.1" x2="1131.3" y2="1252.6" stroke="#7e7e7e"/><line x1="1121.3" y1="1287.6" x2="1160.7" y2="1322.2" stroke="#474747"/><line x1="1160.7" y1="1322.2" x2="1181.5" y2="1318.2" stroke="#474747"/><line x1="1181.5" y1="1318.2" x2="1202.3" y2="1314.1" stroke="#7e7e7e"/><line x1="1160.7" y1="1322.2" x2="1149" y2="1376" stroke="#474747"/><line x1="1149" y1="1376" x2="1164.9" y2="1392.6" stroke="#474747"/><line x1="1164.9" y1="1392.6" x2="1180.8" y2="1409.2" stroke="#7e7e7e"/><line x1="1149" y1="1376" x2="1095.8" y2="1387" stroke="#474747"/><line x1="1095.8" y1="1387" x2="1090.8" y2="1409.1" stroke="#474747"/><line x1="1090.8" y1="1409.1" x2="1085.7" y2="1431.2" stroke="#7e7e7e"/><line x1="1095.8" y1="1387" x2="1057" y2="1351.8" stroke="#474747"/><circle cx="817.5" cy="1363.3" r="7.4" fill="#474747"/><circle cx="827.9" cy="1321.4" r="7.4" fill="#474747"/><circle cx="883.5" cy="1310.4" r="7.4" fill="#474747"/><circle cx="915.9" cy="1341.4" r="7.4" fill="#474747"/><circle cx="904.4" cy="1382.5" r="7.4" fill="#474747"/><circle cx="851" cy="1393.3" r="7.4" fill="#474747"/><circle cx="778.2" cy="1377.8" r="7.4" fill="#7e7e7e"/><circle cx="794.8" cy="1298.9" r="7.4" fill="#7e7e7e"/><circle cx="892.4" cy="1274.5" r="7.4" fill="#7e7e7e"/><circle cx="933.9" cy="1404.7" r="7.4" fill="#5c9c9c"/><circle cx="845.6" cy="1420.2" r="7.4" fill="#7e7e7e"/><circle cx="973.8" cy="1330.4" r="7.4" fill="#474747"/><circle cx="1006.4" cy="1360.6" r="7.4" fill="#4d5296"/><circle cx="985.4" cy="1276.7" r="7.4" fill="#474747"/><circle cx="955.3" cy="1241.1" r="7.4" fill="#474747"/><circle cx="930.4" cy="1220.6" r="7.4" fill="#7e7e7e"/><circle cx="970.8" cy="1216.6" r="7.4" fill="#7e7e7e"/><circle cx="930.5" cy="1265.9" r="7.4" fill="#7e7e7e"/><circle cx="1037.8" cy="1265.8" r="7.4" fill="#474747"/><circle cx="1046" cy="1231.6" r="7.4" fill="#7e7e7e"/><circle cx="1069" cy="1300" r="7.4" fill="#474747"/><circle cx="1057" cy="1351.8" r="7.4" fill="#474747"/><circle cx="1121.3" cy="1287.6" r="7.4" fill="#474747"/><circle cx="1131.3" cy="1252.6" r="7.4" fill="#7e7e7e"/><circle cx="1160.7" cy="1322.2" r="7.4" fill="#474747"/><circle cx="1202.3" cy="1314.1" r="7.4" fill="#7e7e7e"/><circle cx="1149" cy="1376" r="7.4" fill="#474747"/><circle cx="1180.8" cy="1409.2" r="7.4" fill="#7e7e7e"/><circle cx="1095.8" cy="1387" r="7.4" fill="#474747"/><circle cx="1085.7" cy="1431.2" r="7.4" fill="#7e7e7e"/></g>
<g stroke-width="11.8"><line x1="817.5" y1="1363.3" x2="827.9" y2="1321.4" stroke="#6c6c6c"/><line x1="827.9" y1="1321.4" x2="883.5" y2="1310.4" stroke="#6c6c6c"/><line x1="883.5" y1="1310.4" x2="915.9" y2="1341.4" stroke="#6c6c6c"/><line x1="915.9" y1="1341.4" x2="904.4" y2="1382.5" stroke="#6c6c6c"/><line x1="904.4" y1="1382.5" x2="851" y2="1393.3" stroke="#6c6c6c"/><line x1="851" y1="1393.3" x2="817.5" y2="1363.3" stroke="#6c6c6c"/><line x1="817.5" y1="1363.3" x2="797.9" y2="1370.5" stroke="#6c6c6c"/><line x1="797.9" y1="1370.5" x2="778.2" y2="1377.8" stroke="#bcbcbc"/><line x1="827.9" y1="1321.4" x2="811.4" y2="1310.1" stroke="#6c6c6c"/><line x1="811.4" y1="1310.1" x2="794.8" y2="1298.9" stroke="#bcbcbc"/><line x1="883.5" y1="1310.4" x2="888" y2="1292.5" stroke="#6c6c6c"/><line x1="888" y1="1292.5" x2="892.4" y2="1274.5" stroke="#bcbcbc"/><line x1="904.4" y1="1382.5" x2="919.2" y2="1393.6" stroke="#6c6c6c"/><line x1="919.2" y1="1393.6" x2="933.9" y2="1404.7" stroke="#8ccfcf"/><line x1="851" y1="1393.3" x2="848.3" y2="1406.8" stroke="#6c6c6c"/><line x1="848.3" y1="1406.8" x2="845.6" y2="1420.2" stroke="#bcbcbc"/><line x1="915.9" y1="1341.4" x2="973.8" y2="1330.4" stroke="#6c6c6c"/><line x1="973.8" y1="1330.4" x2="990.1" y2="1345.5" stroke="#6c6c6c"/><line x1="990.1" y1="1345.5" x2="1006.4" y2="1360.6" stroke="#7378c8"/><line x1="1006.4" y1="1360.6" x2="1031.7" y2="1356.2" stroke="#7378c8"/><line x1="1031.7" y1="1356.2" x2="1057" y2="1351.8" stroke="#6c6c6c"/><line x1="973.8" y1="1330.4" x2="985.4" y2="1276.7" stroke="#6c6c6c"/><line x1="985.4" y1="1276.7" x2="955.3" y2="1241.1" stroke="#6c6c6c"/><line x1="955.3" y1="1241.1" x2="942.9" y2="1253.5" stroke="#6c6c6c"/><line x1="942.9" y1="1253.5" x2="930.5" y2="1265.9" stroke="#bcbcbc"/><line x1="955.3" y1="1241.1" x2="942.8" y2="1230.8" stroke="#6c6c6c"/><line x1="942.8" y1="1230.8" x2="930.4" y2="1220.6" stroke="#bcbcbc"/><line x1="955.3" y1="1241.1" x2="963.1" y2="1228.8" stroke="#6c6c6c"/><line x1="963.1" y1="1228.8" x2="970.8" y2="1216.6" stroke="#bcbcbc"/><line x1="985.4" y1="1276.7" x2="1037.8" y2="1265.8" stroke="#6c6c6c"/><line x1="1037.8" y1="1265.8" x2="1041.9" y2="1248.7" stroke="#6c6c6c"/><line x1="1041.9" y1="1248.7" x2="1046" y2="1231.6" stroke="#bcbcbc"/><line x1="1037.8" y1="1265.8" x2="1069" y2="1300" stroke="#6c6c6c"/><line x1="1069" y1="1300" x2="1057" y2="1351.8" stroke="#6c6c6c"/><line x1="1069" y1="1300" x2="1121.3" y2="1287.6" stroke="#6c6c6c"/><line x1="1121.3" y1="1287.6" x2="1126.3" y2="1270.1" stroke="#6c6c6c"/><line x1="1126.3" y1="1270.1" x2="1131.3" y2="1252.6" stroke="#bcbcbc"/><line x1="1121.3" y1="1287.6" x2="1160.7" y2="1322.2" stroke="#6c6c6c"/><line x1="1160.7" y1="1322.2" x2="1181.5" y2="1318.2" stroke="#6c6c6c"/><line x1="1181.5" y1="1318.2" x2="1202.3" y2="1314.1" stroke="#bcbcbc"/><line x1="1160.7" y1="1322.2" x2="1149" y2="1376" stroke="#6c6c6c"/><line x1="1149" y1="1376" x2="1164.9" y2="1392.6" stroke="#6c6c6c"/><line x1="1164.9" y1="1392.6" x2="1180.8" y2="1409.2" stroke="#bcbcbc"/><line x1="1149" y1="1376" x2="1095.8" y2="1387" stroke="#6c6c6c"/><line x1="1095.8" y1="1387" x2="1090.8" y2="1409.1" stroke="#6c6c6c"/><line x1="1090.8" y1="1409.1" x2="1085.7" y2="1431.2" stroke="#bcbcbc"/><line x1="1095.8" y1="1387" x2="1057" y2="1351.8" stroke="#6c6c6c"/><circle cx="817.5" cy="1363.3" r="5.9" fill="#6c6c6c"/><circle cx="827.9" cy="1321.4" r="5.9" fill="#6c6c6c"/><circle cx="883.5" cy="1310.4" r="5.9" fill="#6c6c6c"/><circle cx="915.9" cy="1341.4" r="5.9" fill="#6c6c6c"/><circle cx="904.4" cy="1382.5" r="5.9" fill="#6c6c6c"/><circle cx="851" cy="1393.3" r="5.9" fill="#6c6c6c"/><circle cx="778.2" cy="1377.8" r="5.9" fill="#bcbcbc"/><circle cx="794.8" cy="1298.9" r="5.9" fill="#bcbcbc"/><circle cx="892.4" cy="1274.5" r="5.9" fill="#bcbcbc"/><circle cx="933.9" cy="1404.7" r="5.9" fill="#8ccfcf"/><circle cx="845.6" cy="1420.2" r="5.9" fill="#bcbcbc"/><circle cx="973.8" cy="1330.4" r="5.9" fill="#6c6c6c"/><circle cx="1006.4" cy="1360.6" r="5.9" fill="#7378c8"/><circle cx="985.4" cy="1276.7" r="5.9" fill="#6c6c6c"/><circle cx="955.3" cy="1241.1" r="5.9" fill="#6c6c6c"/><circle cx="930.4" cy="1220.6" r="5.9" fill="#bcbcbc"/><circle cx="970.8" cy="1216.6" r="5.9" fill="#bcbcbc"/><circle cx="930.5" cy="1265.9" r="5.9" fill="#bcbcbc"/><circle cx="1037.8" cy="1265.8" r="5.9" fill="#6c6c6c"/><circle cx="1046" cy="1231.6" r="5.9" fill="#bcbcbc"/><circle cx="1069" cy="1300" r="5.9" fill="#6c6c6c"/><circle cx="1057" cy="1351.8" r="5.9" fill="#6c6c6c"/><circle cx="1121.3" cy="1287.6" r="5.9" fill="#6c6c6c"/><circle cx="1131.3" cy="1252.6" r="5.9" fill="#bcbcbc"/><circle cx="1160.7" cy="1322.2" r="5.9" fill="#6c6c6c"/><circle cx="1202.3" cy="1314.1" r="5.9" fill="#bcbcbc"/><circle cx="1149" cy="1376" r="5.9" fill="#6c6c6c"/><circle cx="1180.8" cy="1409.2" r="5.9" fill="#bcbcbc"/><circle cx="1095.8" cy="1387" r="5.9" fill="#6c6c6c"/><circle cx="1085.7" cy="1431.2" r="5.9" fill="#bcbcbc"/></g>
<g stroke-width="8.3" stroke-linecap="butt"><line x1="827.7" y1="1320.4" x2="883.3" y2="1309.4" stroke="#9a9a9a" stroke-opacity="0.8"/><line x1="904.2" y1="1381.5" x2="850.8" y2="1392.3" stroke="#9a9a9a" stroke-opacity="0.8"/><line x1="817.1" y1="1362.3" x2="797.5" y2="1369.6" stroke="#9a9a9a" stroke-opacity="0.7"/><line x1="797.5" y1="1369.6" x2="777.9" y2="1376.9" stroke="#e0e0e0" stroke-opacity="0.8"/><line x1="828.5" y1="1320.5" x2="811.9" y2="1309.3" stroke="#9a9a9a" stroke-opacity="0.1"/><line x1="811.9" y1="1309.3" x2="795.4" y2="1298" stroke="#e0e0e0" stroke-opacity="0.4"/><line x1="887" y1="1292.2" x2="891.4" y2="1274.2" stroke="#e0e0e0" stroke-opacity="0.3"/><line x1="905" y1="1381.7" x2="919.8" y2="1392.8" stroke="#9a9a9a" stroke-opacity="0.1"/><line x1="919.8" y1="1392.8" x2="934.6" y2="1403.9" stroke="#a8e4e4" stroke-opacity="0.1"/><line x1="847.3" y1="1406.6" x2="844.6" y2="1420" stroke="#e0e0e0" stroke-opacity="0.3"/><line x1="915.7" y1="1340.4" x2="973.6" y2="1329.3" stroke="#9a9a9a" stroke-opacity="0.8"/><line x1="1006.2" y1="1359.6" x2="1031.5" y2="1355.2" stroke="#9095e8" stroke-opacity="0.8"/><line x1="1031.5" y1="1355.2" x2="1056.8" y2="1350.8" stroke="#9a9a9a" stroke-opacity="0.8"/><line x1="954.6" y1="1240.3" x2="942.1" y2="1252.8" stroke="#9a9a9a" stroke-opacity="0.3"/><line x1="942.1" y1="1252.8" x2="929.7" y2="1265.2" stroke="#e0e0e0" stroke-opacity="0.5"/><line x1="943.5" y1="1230" x2="931.1" y2="1219.8" stroke="#e0e0e0" stroke-opacity="0.4"/><line x1="954.4" y1="1240.5" x2="962.2" y2="1228.3" stroke="#9a9a9a" stroke-opacity="0.1"/><line x1="962.2" y1="1228.3" x2="970" y2="1216" stroke="#e0e0e0" stroke-opacity="0.4"/><line x1="985.2" y1="1275.6" x2="1037.6" y2="1264.8" stroke="#9a9a9a" stroke-opacity="0.8"/><line x1="1040.9" y1="1248.4" x2="1045" y2="1231.3" stroke="#e0e0e0" stroke-opacity="0.3"/><line x1="1068.8" y1="1299" x2="1121.1" y2="1286.6" stroke="#9a9a9a" stroke-opacity="0.8"/><line x1="1125.3" y1="1269.8" x2="1130.3" y2="1252.3" stroke="#e0e0e0" stroke-opacity="0.3"/><line x1="1160.5" y1="1321.2" x2="1181.3" y2="1317.1" stroke="#9a9a9a" stroke-opacity="0.8"/><line x1="1181.3" y1="1317.1" x2="1202.1" y2="1313.1" stroke="#e0e0e0" stroke-opacity="0.8"/><line x1="1165.7" y1="1391.9" x2="1181.6" y2="1408.5" stroke="#e0e0e0" stroke-opacity="0.3"/><line x1="1148.8" y1="1375" x2="1095.6" y2="1386" stroke="#9a9a9a" stroke-opacity="0.8"/><line x1="1089.8" y1="1408.9" x2="1084.7" y2="1430.9" stroke="#e0e0e0" stroke-opacity="0.3"/></g>
<g stroke-width="4.4" stroke-linecap="butt"><line x1="827.7" y1="1320.4" x2="883.3" y2="1309.4" stroke="#f4f4f4" stroke-opacity="0.6"/><line x1="904.2" y1="1381.5" x2="850.8" y2="1392.3" stroke="#f4f4f4" stroke-opacity="0.6"/><line x1="817.1" y1="1362.3" x2="797.5" y2="1369.6" stroke="#f4f4f4" stroke-opacity="0.5"/><line x1="797.5" y1="1369.6" x2="777.9" y2="1376.9" stroke="#ffffff" stroke-opacity="0.6"/><line x1="828.5" y1="1320.5" x2="811.9" y2="1309.3" stroke="#f4f4f4" stroke-opacity="0.1"/><line x1="811.9" y1="1309.3" x2="795.4" y2="1298" stroke="#ffffff" stroke-opacity="0.3"/><line x1="887" y1="1292.2" x2="891.4" y2="1274.2" stroke="#ffffff" stroke-opacity="0.3"/><line x1="847.3" y1="1406.6" x2="844.6" y2="1420" stroke="#ffffff" stroke-opacity="0.3"/><line x1="915.7" y1="1340.4" x2="973.6" y2="1329.3" stroke="#f4f4f4" stroke-opacity="0.6"/><line x1="1006.2" y1="1359.6" x2="1031.5" y2="1355.2" stroke="#e4e6ff" stroke-opacity="0.6"/><line x1="1031.5" y1="1355.2" x2="1056.8" y2="1350.8" stroke="#f4f4f4" stroke-opacity="0.6"/><line x1="954.6" y1="1240.3" x2="942.1" y2="1252.8" stroke="#f4f4f4" stroke-opacity="0.2"/><line x1="942.1" y1="1252.8" x2="929.7" y2="1265.2" stroke="#ffffff" stroke-opacity="0.4"/><line x1="943.5" y1="1230" x2="931.1" y2="1219.8" stroke="#ffffff" stroke-opacity="0.3"/><line x1="954.4" y1="1240.5" x2="962.2" y2="1228.3" stroke="#f4f4f4" stroke-opacity="0.1"/><line x1="962.2" y1="1228.3" x2="970" y2="1216" stroke="#ffffff" stroke-opacity="0.3"/><line x1="985.2" y1="1275.6" x2="1037.6" y2="1264.8" stroke="#f4f4f4" stroke-opacity="0.6"/><line x1="1040.9" y1="1248.4" x2="1045" y2="1231.3" stroke="#ffffff" stroke-opacity="0.3"/><line x1="1068.8" y1="1299" x2="1121.1" y2="1286.6" stroke="#f4f4f4" stroke-opacity="0.6"/><line x1="1125.3" y1="1269.8" x2="1130.3" y2="1252.3" stroke="#ffffff" stroke-opacity="0.3"/><line x1="1160.5" y1="1321.2" x2="1181.3" y2="1317.1" stroke="#f4f4f4" stroke-opacity="0.6"/><line x1="1181.3" y1="1317.1" x2="1202.1" y2="1313.1" stroke="#ffffff" stroke-opacity="0.6"/><line x1="1165.7" y1="1391.9" x2="1181.6" y2="1408.5" stroke="#ffffff" stroke-opacity="0.3"/><line x1="1148.8" y1="1375" x2="1095.6" y2="1386" stroke="#f4f4f4" stroke-opacity="0.6"/><line x1="1089.8" y1="1408.9" x2="1084.7" y2="1430.9" stroke="#ffffff" stroke-opacity="0.3"/></g>
<g stroke-width="1.9" stroke-linecap="butt"><line x1="827.7" y1="1320.4" x2="883.3" y2="1309.4" stroke="#f4f4f4" stroke-opacity="0.8"/><line x1="904.2" y1="1381.5" x2="850.8" y2="1392.3" stroke="#f4f4f4" stroke-opacity="0.8"/><line x1="817.1" y1="1362.3" x2="797.5" y2="1369.6" stroke="#f4f4f4" stroke-opacity="0.7"/><line x1="797.5" y1="1369.6" x2="777.9" y2="1376.9" stroke="#ffffff" stroke-opacity="0.8"/><line x1="828.5" y1="1320.5" x2="811.9" y2="1309.3" stroke="#f4f4f4" stroke-opacity="0.1"/><line x1="811.9" y1="1309.3" x2="795.4" y2="1298" stroke="#ffffff" stroke-opacity="0.4"/><line x1="887" y1="1292.2" x2="891.4" y2="1274.2" stroke="#ffffff" stroke-opacity="0.3"/><line x1="905" y1="1381.7" x2="919.8" y2="1392.8" stroke="#f4f4f4" stroke-opacity="0.1"/><line x1="919.8" y1="1392.8" x2="934.6" y2="1403.9" stroke="#eaffff" stroke-opacity="0.1"/><line x1="847.3" y1="1406.6" x2="844.6" y2="1420" stroke="#ffffff" stroke-opacity="0.3"/><line x1="915.7" y1="1340.4" x2="973.6" y2="1329.3" stroke="#f4f4f4" stroke-opacity="0.8"/><line x1="1006.2" y1="1359.6" x2="1031.5" y2="1355.2" stroke="#e4e6ff" stroke-opacity="0.8"/><line x1="1031.5" y1="1355.2" x2="1056.8" y2="1350.8" stroke="#f4f4f4" stroke-opacity="0.8"/><line x1="954.6" y1="1240.3" x2="942.1" y2="1252.8" stroke="#f4f4f4" stroke-opacity="0.3"/><line x1="942.1" y1="1252.8" x2="929.7" y2="1265.2" stroke="#ffffff" stroke-opacity="0.5"/><line x1="943.5" y1="1230" x2="931.1" y2="1219.8" stroke="#ffffff" stroke-opacity="0.4"/><line x1="954.4" y1="1240.5" x2="962.2" y2="1228.3" stroke="#f4f4f4" stroke-opacity="0.1"/><line x1="962.2" y1="1228.3" x2="970" y2="1216" stroke="#ffffff" stroke-opacity="0.4"/><line x1="985.2" y1="1275.6" x2="1037.6" y2="1264.8" stroke="#f4f4f4" stroke-opacity="0.8"/><line x1="1040.9" y1="1248.4" x2="1045" y2="1231.3" stroke="#ffffff" stroke-opacity="0.3"/><line x1="1068.8" y1="1299" x2="1121.1" y2="1286.6" stroke="#f4f4f4" stroke-opacity="0.8"/><line x1="1125.3" y1="1269.8" x2="1130.3" y2="1252.3" stroke="#ffffff" stroke-opacity="0.3"/><line x1="1160.5" y1="1321.2" x2="1181.3" y2="1317.1" stroke="#f4f4f4" stroke-opacity="0.8"/><line x1="1181.3" y1="1317.1" x2="1202.1" y2="1313.1" stroke="#ffffff" stroke-opacity="0.8"/><line x1="1165.7" y1="1391.9" x2="1181.6" y2="1408.5" stroke="#ffffff" stroke-opacity="0.3"/><line x1="1148.8" y1="1375" x2="1095.6" y2="1386" stroke="#f4f4f4" stroke-opacity="0.8"/><line x1="1089.8" y1="1408.9" x2="1084.7" y2="1430.9" stroke="#ffffff" stroke-opacity="0.3"/></g>
</g>
<line x1="819.8" y1="1375" x2="1158.4" y2="1315.5" stroke="#f00" stroke-width="2.1" stroke-dasharray="7.6 3.6"/>
<text x="364.5" y="1067.8" font-size="31.3" font-weight="bold" text-anchor="middle">9.11 A°</text>
<text x="322.1" y="1110.7" font-size="31.4" font-weight="bold" text-anchor="middle">Myricetin (Query</text>
<text x="321.8" y="1148.9" font-size="31.4" font-weight="bold" text-anchor="middle">Molecule)</text>
<text x="971.5" y="1131" font-size="31.3" font-weight="bold" text-anchor="middle">9.67 A°</text>
<text x="963.5" y="1165.8" font-size="31.3" font-weight="bold" text-anchor="middle">CP2</text>
<text x="378" y="1425.9" font-size="31.3" font-weight="bold" text-anchor="middle">9.95 A°</text>
<text x="370.3" y="1460.7" font-size="31.3" font-weight="bold" text-anchor="middle">CP6</text>
<text x="1004.7" y="1443.4" font-size="31.3" font-weight="bold" text-anchor="middle">9.25 A°</text>
<text x="997" y="1477.7" font-size="31.3" font-weight="bold" text-anchor="middle">CP13</text>
</g>
</svg>
</body></html>
